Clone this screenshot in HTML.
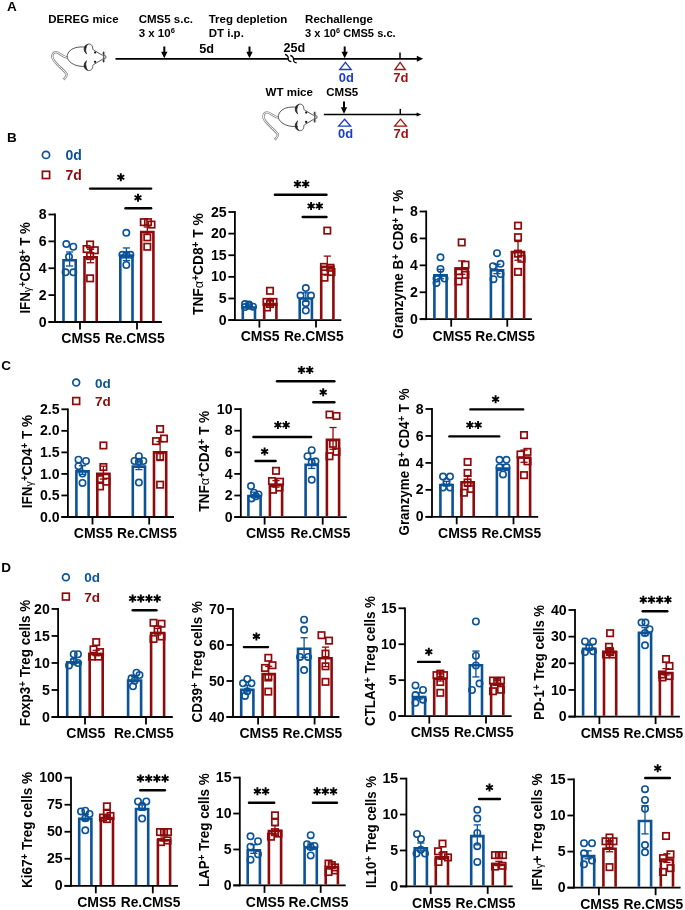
<!DOCTYPE html>
<html><head><meta charset="utf-8"><style>
html,body{margin:0;padding:0;background:#fff;}
svg{display:block;font-family:"Liberation Sans", sans-serif;will-change:transform;}
</style></head><body>
<svg width="685" height="910" viewBox="0 0 685 910">
<rect width="685" height="910" fill="#fff"/>
<text x="48.3" y="22.9" font-size="11.5" font-weight="bold" fill="#000">DEREG mice</text>
<text x="138.7" y="23.0" font-size="11.5" font-weight="bold" fill="#000">CMS5 s.c.</text>
<text x="138.7" y="37.1" font-size="11.5" font-weight="bold" fill="#000">3 x 10<tspan font-size="7.5" dy="-4.5">6</tspan></text>
<text x="208.7" y="23.0" font-size="11.5" font-weight="bold" fill="#000">Treg depletion</text>
<text x="208.7" y="37.1" font-size="11.5" font-weight="bold" fill="#000">DT i.p.</text>
<text x="305.1" y="23.0" font-size="11.5" font-weight="bold" fill="#000">Rechallenge</text>
<text x="305.1" y="37.1" font-size="11.5" font-weight="bold" fill="#000" textLength="90.6" lengthAdjust="spacingAndGlyphs">3 x 10<tspan font-size="7.5" dy="-4.5">6</tspan><tspan dy="4.5"> CMS5 s.c.</tspan></text>
<text x="199.3" y="52.8" font-size="12.7" font-weight="bold" fill="#000">5d</text>
<text x="283.5" y="51.7" font-size="12.6" font-weight="bold" fill="#000">25d</text>
<line x1="115.50" y1="58.90" x2="417.00" y2="58.90" stroke="#000" stroke-width="1.6" />
<path d="M416.8,55.8 L423.2,58.8 L416.8,61.8 Z" fill="#000"/>
<path d="M288.6,57.2 L293.4,57.2 L293.4,60.6 L288.6,60.6 Z" fill="#fff"/>
<path d="M285,54.3 C287.5,55.2 288.4,57 288.2,58.6 C288,60.3 289.5,61.5 291.4,61.6" fill="none" stroke="#000" stroke-width="1.25"/>
<path d="M290.3,55.3 C292.8,56.2 293.7,58 293.5,59.6 C293.3,61.3 294.8,62.5 296.7,62.8" fill="none" stroke="#000" stroke-width="1.25"/>
<line x1="164.3" y1="46.5" x2="164.3" y2="53" stroke="#000" stroke-width="2.0"/>
<path d="M161.10000000000002,51.7 L167.5,51.7 L164.3,58.2 Z" fill="#000"/>
<line x1="249.5" y1="46.5" x2="249.5" y2="53" stroke="#000" stroke-width="2.0"/>
<path d="M246.3,51.7 L252.7,51.7 L249.5,58.2 Z" fill="#000"/>
<line x1="344.7" y1="46.5" x2="344.7" y2="53" stroke="#000" stroke-width="2.0"/>
<path d="M341.5,51.7 L347.9,51.7 L344.7,58.2 Z" fill="#000"/>
<line x1="400.00" y1="52.50" x2="400.00" y2="59.00" stroke="#000" stroke-width="1.5" />
<path d="M345.45,62.30 L351.20,69.50 L339.70,69.50 Z" fill="none" stroke="#1c3cc4" stroke-width="1.3"/>
<path d="M400.10,62.30 L405.30,69.50 L394.90,69.50 Z" fill="none" stroke="#a01414" stroke-width="1.3"/>
<text x="338.8" y="81.8" font-size="12.9" font-weight="bold" fill="#1c3cc4">0d</text>
<text x="393.2" y="81.8" font-size="13.0" font-weight="bold" fill="#a01414">7d</text>
<text x="265.6" y="96.4" font-size="11.5" font-weight="bold" fill="#000">WT mice</text>
<text x="326.3" y="96.4" font-size="11.5" font-weight="bold" fill="#000">CMS5</text>
<line x1="344" y1="101.6" x2="344" y2="108" stroke="#000" stroke-width="2.0"/>
<path d="M340.8,107.2 L347.2,107.2 L344,113.7 Z" fill="#000"/>
<line x1="323.80" y1="114.50" x2="418.00" y2="114.50" stroke="#000" stroke-width="1.3" />
<path d="M416.6,112.4 L421.4,114.4 L416.6,116.4 Z" fill="#000"/>
<line x1="400.30" y1="108.90" x2="400.30" y2="114.40" stroke="#000" stroke-width="1.5" />
<path d="M344.60,119.20 L350.60,126.10 L338.60,126.10 Z" fill="none" stroke="#1c3cc4" stroke-width="1.3"/>
<path d="M400.50,119.20 L406.40,126.10 L394.60,126.10 Z" fill="none" stroke="#a01414" stroke-width="1.3"/>
<text x="338.0" y="137.6" font-size="12.9" font-weight="bold" fill="#1c3cc4">0d</text>
<text x="393.5" y="137.6" font-size="13.0" font-weight="bold" fill="#a01414">7d</text>
<g>
<g fill="none" stroke="#555" stroke-width="0.9">
<path d="M67.3,57.6 C62,56.5 59.5,52.6 56.3,52.3 C53,52.1 51.8,55 52.6,58 C54,63 62,68 66.8,74.2 C67.2,75.5 65,78 63.6,79.7" stroke="#888" stroke-width="2.4"/>
<path d="M67.3,57.6 C62,56.5 59.5,52.6 56.3,52.3 C53,52.1 51.8,55 52.6,58 C54,63 62,68 66.8,74.2 C67.2,75.5 65,78 63.6,79.7" stroke="#fff" stroke-width="1.0"/>
<path d="M86.5,47.3 C78,46 69,48 67.2,55.5 C66.5,61 74,67.5 86.5,66.3" stroke="#444"/>
<path d="M87.5,44.3 C90,43.3 92.6,45 92.7,48 C92.8,49.3 93.2,50 94,50.3 L102.6,55.4" stroke="#444"/>
<path d="M87.5,70.3 C90,71.3 92.6,69.6 92.7,66.6 C92.8,65.3 93.2,64.6 94,64.3 L102.6,59.2" stroke="#444"/>
<path d="M87.8,44.4 C83.6,45 82.8,51 86.6,53.8 C85.2,51.5 85.3,46.5 87.8,44.4 Z" fill="#222" stroke="#222" stroke-width="0.8"/>
<path d="M87.8,70.2 C83.6,69.6 82.8,63.6 86.6,60.8 C85.2,63.1 85.3,68.1 87.8,70.2 Z" fill="#222" stroke="#222" stroke-width="0.8"/>
<path d="M104.3,55.3 A1.7,1.7 0 0 1 104.3,58.7" stroke="#444"/>
<path d="M103.6,51.6 L103.6,62.4" stroke="#333" stroke-width="1.3"/>
<path d="M102.3,52.5 L104.9,61.6 M104.9,52.5 L102.3,61.6" stroke="#777" stroke-width="0.6"/>
</g>
<circle cx="95.1" cy="52.5" r="1.1" fill="#111"/>
<circle cx="95.1" cy="61.8" r="1.1" fill="#111"/>
</g>
<g transform="translate(211.1,60.1)">
<g fill="none" stroke="#555" stroke-width="0.9">
<path d="M67.3,57.6 C62,56.5 59.5,52.6 56.3,52.3 C53,52.1 51.8,55 52.6,58 C54,63 62,68 66.8,74.2 C67.2,75.5 65,78 63.6,79.7" stroke="#888" stroke-width="2.4"/>
<path d="M67.3,57.6 C62,56.5 59.5,52.6 56.3,52.3 C53,52.1 51.8,55 52.6,58 C54,63 62,68 66.8,74.2 C67.2,75.5 65,78 63.6,79.7" stroke="#fff" stroke-width="1.0"/>
<path d="M86.5,47.3 C78,46 69,48 67.2,55.5 C66.5,61 74,67.5 86.5,66.3" stroke="#444"/>
<path d="M87.5,44.3 C90,43.3 92.6,45 92.7,48 C92.8,49.3 93.2,50 94,50.3 L102.6,55.4" stroke="#444"/>
<path d="M87.5,70.3 C90,71.3 92.6,69.6 92.7,66.6 C92.8,65.3 93.2,64.6 94,64.3 L102.6,59.2" stroke="#444"/>
<path d="M87.8,44.4 C83.6,45 82.8,51 86.6,53.8 C85.2,51.5 85.3,46.5 87.8,44.4 Z" fill="#222" stroke="#222" stroke-width="0.8"/>
<path d="M87.8,70.2 C83.6,69.6 82.8,63.6 86.6,60.8 C85.2,63.1 85.3,68.1 87.8,70.2 Z" fill="#222" stroke="#222" stroke-width="0.8"/>
<path d="M104.3,55.3 A1.7,1.7 0 0 1 104.3,58.7" stroke="#444"/>
<path d="M103.6,51.6 L103.6,62.4" stroke="#333" stroke-width="1.3"/>
<path d="M102.3,52.5 L104.9,61.6 M104.9,52.5 L102.3,61.6" stroke="#777" stroke-width="0.6"/>
</g>
<circle cx="95.1" cy="52.5" r="1.1" fill="#111"/>
<circle cx="95.1" cy="61.8" r="1.1" fill="#111"/>
</g>
<line x1="55.00" y1="213.60" x2="55.00" y2="322.90" stroke="#000" stroke-width="1.8" />
<line x1="48.50" y1="322.00" x2="161.90" y2="322.00" stroke="#000" stroke-width="1.8" />
<line x1="48.50" y1="322.00" x2="55.00" y2="322.00" stroke="#000" stroke-width="1.8" />
<text x="46.7" y="326.6" font-size="14.1" text-anchor="end" font-weight="bold" fill="#000" >0</text>
<line x1="48.50" y1="295.12" x2="55.00" y2="295.12" stroke="#000" stroke-width="1.8" />
<text x="46.7" y="299.7" font-size="14.1" text-anchor="end" font-weight="bold" fill="#000" >2</text>
<line x1="48.50" y1="268.25" x2="55.00" y2="268.25" stroke="#000" stroke-width="1.8" />
<text x="46.7" y="272.8" font-size="14.1" text-anchor="end" font-weight="bold" fill="#000" >4</text>
<line x1="48.50" y1="241.38" x2="55.00" y2="241.38" stroke="#000" stroke-width="1.8" />
<text x="46.7" y="245.9" font-size="14.1" text-anchor="end" font-weight="bold" fill="#000" >6</text>
<line x1="48.50" y1="214.50" x2="55.00" y2="214.50" stroke="#000" stroke-width="1.8" />
<text x="46.7" y="219.1" font-size="14.1" text-anchor="end" font-weight="bold" fill="#000" >8</text>
<line x1="80.00" y1="322.00" x2="80.00" y2="329.50" stroke="#000" stroke-width="1.8" />
<line x1="137.00" y1="322.00" x2="137.00" y2="329.50" stroke="#000" stroke-width="1.8" />
<text x="80.8" y="343.3" font-size="14.0" text-anchor="middle" font-weight="bold" fill="#000" >CMS5</text>
<text x="134.8" y="343.3" font-size="14.0" text-anchor="middle" font-weight="bold" fill="#000" textLength="59.8" lengthAdjust="spacingAndGlyphs">Re.CMS5</text>
<path d="M63.50,321.10 V260.28 H75.70 V321.10" fill="none" stroke="#0b5297" stroke-width="2.6" stroke-linejoin="miter"/>
<line x1="69.60" y1="251.99" x2="69.60" y2="265.97" stroke="#0b5297" stroke-width="1.3" />
<line x1="66.00" y1="251.99" x2="73.20" y2="251.99" stroke="#0b5297" stroke-width="1.3" />
<line x1="66.00" y1="265.97" x2="73.20" y2="265.97" stroke="#0b5297" stroke-width="1.3" />
<circle cx="66.30" cy="244.06" r="3.2" fill="none" stroke="#0b5297" stroke-width="1.6"/>
<circle cx="73.30" cy="246.75" r="3.2" fill="none" stroke="#0b5297" stroke-width="1.6"/>
<circle cx="69.00" cy="256.83" r="3.2" fill="none" stroke="#0b5297" stroke-width="1.6"/>
<circle cx="65.60" cy="272.28" r="3.2" fill="none" stroke="#0b5297" stroke-width="1.6"/>
<circle cx="73.30" cy="272.28" r="3.2" fill="none" stroke="#0b5297" stroke-width="1.6"/>
<path d="M84.50,321.10 V257.32 H96.70 V321.10" fill="none" stroke="#8f0b0b" stroke-width="2.6" stroke-linejoin="miter"/>
<line x1="90.60" y1="249.30" x2="90.60" y2="262.74" stroke="#8f0b0b" stroke-width="1.3" />
<line x1="87.00" y1="249.30" x2="94.20" y2="249.30" stroke="#8f0b0b" stroke-width="1.3" />
<line x1="87.00" y1="262.74" x2="94.20" y2="262.74" stroke="#8f0b0b" stroke-width="1.3" />
<rect x="86.90" y="241.27" width="6.4" height="6.4" fill="none" stroke="#8f0b0b" stroke-width="1.7"/>
<rect x="83.40" y="245.83" width="6.4" height="6.4" fill="none" stroke="#8f0b0b" stroke-width="1.7"/>
<rect x="91.60" y="247.04" width="6.4" height="6.4" fill="none" stroke="#8f0b0b" stroke-width="1.7"/>
<rect x="86.90" y="252.82" width="6.4" height="6.4" fill="none" stroke="#8f0b0b" stroke-width="1.7"/>
<rect x="86.90" y="275.13" width="6.4" height="6.4" fill="none" stroke="#8f0b0b" stroke-width="1.7"/>
<path d="M120.30,321.10 V255.58 H132.50 V321.10" fill="none" stroke="#0b5297" stroke-width="2.6" stroke-linejoin="miter"/>
<line x1="126.40" y1="247.96" x2="126.40" y2="260.59" stroke="#0b5297" stroke-width="1.3" />
<line x1="122.80" y1="247.96" x2="130.00" y2="247.96" stroke="#0b5297" stroke-width="1.3" />
<line x1="122.80" y1="260.59" x2="130.00" y2="260.59" stroke="#0b5297" stroke-width="1.3" />
<circle cx="126.30" cy="232.78" r="3.2" fill="none" stroke="#0b5297" stroke-width="1.6"/>
<circle cx="122.40" cy="254.81" r="3.2" fill="none" stroke="#0b5297" stroke-width="1.6"/>
<circle cx="126.40" cy="254.81" r="3.2" fill="none" stroke="#0b5297" stroke-width="1.6"/>
<circle cx="130.40" cy="254.81" r="3.2" fill="none" stroke="#0b5297" stroke-width="1.6"/>
<circle cx="126.30" cy="265.02" r="3.2" fill="none" stroke="#0b5297" stroke-width="1.6"/>
<path d="M141.20,321.10 V232.06 H153.40 V321.10" fill="none" stroke="#8f0b0b" stroke-width="2.6" stroke-linejoin="miter"/>
<line x1="147.30" y1="227.00" x2="147.30" y2="234.52" stroke="#8f0b0b" stroke-width="1.3" />
<line x1="143.70" y1="227.00" x2="150.90" y2="227.00" stroke="#8f0b0b" stroke-width="1.3" />
<line x1="143.70" y1="234.52" x2="150.90" y2="234.52" stroke="#8f0b0b" stroke-width="1.3" />
<rect x="140.60" y="218.96" width="6.4" height="6.4" fill="none" stroke="#8f0b0b" stroke-width="1.7"/>
<rect x="144.80" y="218.96" width="6.4" height="6.4" fill="none" stroke="#8f0b0b" stroke-width="1.7"/>
<rect x="148.30" y="221.38" width="6.4" height="6.4" fill="none" stroke="#8f0b0b" stroke-width="1.7"/>
<rect x="144.10" y="234.14" width="6.4" height="6.4" fill="none" stroke="#8f0b0b" stroke-width="1.7"/>
<rect x="144.10" y="243.55" width="6.4" height="6.4" fill="none" stroke="#8f0b0b" stroke-width="1.7"/>
<line x1="90.10" y1="188.60" x2="151.10" y2="188.60" stroke="#000" stroke-width="2.4" stroke-linecap="round"/>
<path d="M120.80,173.30 L120.80,181.30 M117.34,175.30 L124.26,179.30 M124.26,175.30 L117.34,179.30 " stroke="#000" stroke-width="1.9" fill="none"/>
<circle cx="120.80" cy="177.30" r="1.6" fill="#000"/>
<line x1="125.50" y1="208.20" x2="151.10" y2="208.20" stroke="#000" stroke-width="2.4" stroke-linecap="round"/>
<path d="M138.00,193.70 L138.00,201.70 M134.54,195.70 L141.46,199.70 M141.46,195.70 L134.54,199.70 " stroke="#000" stroke-width="1.9" fill="none"/>
<circle cx="138.00" cy="197.70" r="1.6" fill="#000"/>
<text transform="translate(30.29,267.85) rotate(-90)" x="0" y="0" font-size="14.5" font-weight="bold" text-anchor="middle" textLength="91.5" lengthAdjust="spacingAndGlyphs">IFN<tspan font-weight="normal" font-size="11.5" baseline-shift="-1">γ</tspan><tspan baseline-shift="3.7" font-size="10.5">+</tspan>CD8<tspan baseline-shift="3.7" font-size="10.5">+</tspan> T %</text>
<line x1="234.90" y1="211.10" x2="234.90" y2="321.00" stroke="#000" stroke-width="1.8" />
<line x1="228.40" y1="320.10" x2="341.30" y2="320.10" stroke="#000" stroke-width="1.8" />
<line x1="228.40" y1="320.10" x2="234.90" y2="320.10" stroke="#000" stroke-width="1.8" />
<text x="226.6" y="324.7" font-size="14.1" text-anchor="end" font-weight="bold" fill="#000" >0</text>
<line x1="228.40" y1="298.48" x2="234.90" y2="298.48" stroke="#000" stroke-width="1.8" />
<text x="226.6" y="303.0" font-size="14.1" text-anchor="end" font-weight="bold" fill="#000" >5</text>
<line x1="228.40" y1="276.86" x2="234.90" y2="276.86" stroke="#000" stroke-width="1.8" />
<text x="226.6" y="281.4" font-size="14.1" text-anchor="end" font-weight="bold" fill="#000" >10</text>
<line x1="228.40" y1="255.24" x2="234.90" y2="255.24" stroke="#000" stroke-width="1.8" />
<text x="226.6" y="259.8" font-size="14.1" text-anchor="end" font-weight="bold" fill="#000" >15</text>
<line x1="228.40" y1="233.62" x2="234.90" y2="233.62" stroke="#000" stroke-width="1.8" />
<text x="226.6" y="238.2" font-size="14.1" text-anchor="end" font-weight="bold" fill="#000" >20</text>
<line x1="228.40" y1="212.00" x2="234.90" y2="212.00" stroke="#000" stroke-width="1.8" />
<text x="226.6" y="216.6" font-size="14.1" text-anchor="end" font-weight="bold" fill="#000" >25</text>
<line x1="259.40" y1="320.10" x2="259.40" y2="327.60" stroke="#000" stroke-width="1.8" />
<line x1="316.00" y1="320.10" x2="316.00" y2="327.60" stroke="#000" stroke-width="1.8" />
<text x="260.2" y="341.4" font-size="14.0" text-anchor="middle" font-weight="bold" fill="#000" >CMS5</text>
<text x="313.8" y="341.4" font-size="14.0" text-anchor="middle" font-weight="bold" fill="#000" textLength="59.8" lengthAdjust="spacingAndGlyphs">Re.CMS5</text>
<path d="M242.80,319.20 V307.51 H255.00 V319.20" fill="none" stroke="#0b5297" stroke-width="2.6" stroke-linejoin="miter"/>
<line x1="248.90" y1="304.91" x2="248.90" y2="307.50" stroke="#0b5297" stroke-width="1.3" />
<line x1="245.30" y1="304.91" x2="252.50" y2="304.91" stroke="#0b5297" stroke-width="1.3" />
<line x1="245.30" y1="307.50" x2="252.50" y2="307.50" stroke="#0b5297" stroke-width="1.3" />
<circle cx="245.00" cy="304.05" r="3.2" fill="none" stroke="#0b5297" stroke-width="1.6"/>
<circle cx="249.00" cy="304.48" r="3.2" fill="none" stroke="#0b5297" stroke-width="1.6"/>
<circle cx="253.00" cy="306.64" r="3.2" fill="none" stroke="#0b5297" stroke-width="1.6"/>
<circle cx="249.00" cy="305.78" r="3.2" fill="none" stroke="#0b5297" stroke-width="1.6"/>
<circle cx="245.00" cy="307.07" r="3.2" fill="none" stroke="#0b5297" stroke-width="1.6"/>
<path d="M264.20,319.20 V304.05 H276.40 V319.20" fill="none" stroke="#8f0b0b" stroke-width="2.6" stroke-linejoin="miter"/>
<line x1="270.30" y1="299.73" x2="270.30" y2="305.78" stroke="#8f0b0b" stroke-width="1.3" />
<line x1="266.70" y1="299.73" x2="273.90" y2="299.73" stroke="#8f0b0b" stroke-width="1.3" />
<line x1="266.70" y1="305.78" x2="273.90" y2="305.78" stroke="#8f0b0b" stroke-width="1.3" />
<rect x="266.80" y="287.59" width="6.4" height="6.4" fill="none" stroke="#8f0b0b" stroke-width="1.7"/>
<rect x="263.30" y="298.69" width="6.4" height="6.4" fill="none" stroke="#8f0b0b" stroke-width="1.7"/>
<rect x="270.30" y="298.69" width="6.4" height="6.4" fill="none" stroke="#8f0b0b" stroke-width="1.7"/>
<rect x="266.80" y="300.85" width="6.4" height="6.4" fill="none" stroke="#8f0b0b" stroke-width="1.7"/>
<rect x="263.80" y="304.30" width="6.4" height="6.4" fill="none" stroke="#8f0b0b" stroke-width="1.7"/>
<path d="M299.70,319.20 V298.44 H311.90 V319.20" fill="none" stroke="#0b5297" stroke-width="2.6" stroke-linejoin="miter"/>
<line x1="305.80" y1="292.82" x2="305.80" y2="301.46" stroke="#0b5297" stroke-width="1.3" />
<line x1="302.20" y1="292.82" x2="309.40" y2="292.82" stroke="#0b5297" stroke-width="1.3" />
<line x1="302.20" y1="301.46" x2="309.40" y2="301.46" stroke="#0b5297" stroke-width="1.3" />
<circle cx="305.80" cy="288.06" r="3.2" fill="none" stroke="#0b5297" stroke-width="1.6"/>
<circle cx="300.50" cy="295.62" r="3.2" fill="none" stroke="#0b5297" stroke-width="1.6"/>
<circle cx="311.00" cy="295.62" r="3.2" fill="none" stroke="#0b5297" stroke-width="1.6"/>
<circle cx="305.80" cy="303.18" r="3.2" fill="none" stroke="#0b5297" stroke-width="1.6"/>
<circle cx="305.80" cy="310.53" r="3.2" fill="none" stroke="#0b5297" stroke-width="1.6"/>
<path d="M321.20,319.20 V266.90 H333.40 V319.20" fill="none" stroke="#8f0b0b" stroke-width="2.6" stroke-linejoin="miter"/>
<line x1="327.30" y1="256.10" x2="327.30" y2="275.10" stroke="#8f0b0b" stroke-width="1.3" />
<line x1="323.70" y1="256.10" x2="330.90" y2="256.10" stroke="#8f0b0b" stroke-width="1.3" />
<line x1="323.70" y1="275.10" x2="330.90" y2="275.10" stroke="#8f0b0b" stroke-width="1.3" />
<rect x="324.10" y="227.41" width="6.4" height="6.4" fill="none" stroke="#8f0b0b" stroke-width="1.7"/>
<rect x="320.80" y="263.70" width="6.4" height="6.4" fill="none" stroke="#8f0b0b" stroke-width="1.7"/>
<rect x="327.30" y="264.56" width="6.4" height="6.4" fill="none" stroke="#8f0b0b" stroke-width="1.7"/>
<rect x="328.30" y="268.88" width="6.4" height="6.4" fill="none" stroke="#8f0b0b" stroke-width="1.7"/>
<rect x="321.30" y="274.50" width="6.4" height="6.4" fill="none" stroke="#8f0b0b" stroke-width="1.7"/>
<line x1="274.90" y1="194.70" x2="326.50" y2="194.70" stroke="#000" stroke-width="2.4" stroke-linecap="round"/>
<path d="M297.50,180.00 L297.50,188.00 M294.04,182.00 L300.96,186.00 M300.96,182.00 L294.04,186.00 " stroke="#000" stroke-width="1.9" fill="none"/>
<circle cx="297.50" cy="184.00" r="1.6" fill="#000"/>
<path d="M305.70,180.00 L305.70,188.00 M302.24,182.00 L309.16,186.00 M309.16,182.00 L302.24,186.00 " stroke="#000" stroke-width="1.9" fill="none"/>
<circle cx="305.70" cy="184.00" r="1.6" fill="#000"/>
<line x1="302.70" y1="217.00" x2="326.50" y2="217.00" stroke="#000" stroke-width="2.4" stroke-linecap="round"/>
<path d="M311.10,202.00 L311.10,210.00 M307.64,204.00 L314.56,208.00 M314.56,204.00 L307.64,208.00 " stroke="#000" stroke-width="1.9" fill="none"/>
<circle cx="311.10" cy="206.00" r="1.6" fill="#000"/>
<path d="M319.30,202.00 L319.30,210.00 M315.84,204.00 L322.76,208.00 M322.76,204.00 L315.84,208.00 " stroke="#000" stroke-width="1.9" fill="none"/>
<circle cx="319.30" cy="206.00" r="1.6" fill="#000"/>
<text transform="translate(202.89,264.15) rotate(-90)" x="0" y="0" font-size="14.5" font-weight="bold" text-anchor="middle" textLength="101.7" lengthAdjust="spacingAndGlyphs">TNF<tspan font-weight="normal" font-size="13.5">α</tspan><tspan baseline-shift="3.7" font-size="10.5">+</tspan>CD8<tspan baseline-shift="3.7" font-size="10.5">+</tspan> T %</text>
<line x1="426.20" y1="210.60" x2="426.20" y2="320.10" stroke="#000" stroke-width="1.8" />
<line x1="419.70" y1="319.20" x2="531.90" y2="319.20" stroke="#000" stroke-width="1.8" />
<line x1="419.70" y1="319.20" x2="426.20" y2="319.20" stroke="#000" stroke-width="1.8" />
<text x="417.9" y="323.8" font-size="14.1" text-anchor="end" font-weight="bold" fill="#000" >0</text>
<line x1="419.70" y1="292.27" x2="426.20" y2="292.27" stroke="#000" stroke-width="1.8" />
<text x="417.9" y="296.8" font-size="14.1" text-anchor="end" font-weight="bold" fill="#000" >2</text>
<line x1="419.70" y1="265.35" x2="426.20" y2="265.35" stroke="#000" stroke-width="1.8" />
<text x="417.9" y="269.9" font-size="14.1" text-anchor="end" font-weight="bold" fill="#000" >4</text>
<line x1="419.70" y1="238.43" x2="426.20" y2="238.43" stroke="#000" stroke-width="1.8" />
<text x="417.9" y="243.0" font-size="14.1" text-anchor="end" font-weight="bold" fill="#000" >6</text>
<line x1="419.70" y1="211.50" x2="426.20" y2="211.50" stroke="#000" stroke-width="1.8" />
<text x="417.9" y="216.1" font-size="14.1" text-anchor="end" font-weight="bold" fill="#000" >8</text>
<line x1="451.20" y1="319.20" x2="451.20" y2="326.70" stroke="#000" stroke-width="1.8" />
<line x1="507.30" y1="319.20" x2="507.30" y2="326.70" stroke="#000" stroke-width="1.8" />
<text x="452.0" y="340.5" font-size="14.0" text-anchor="middle" font-weight="bold" fill="#000" >CMS5</text>
<text x="505.1" y="340.5" font-size="14.0" text-anchor="middle" font-weight="bold" fill="#000" textLength="59.8" lengthAdjust="spacingAndGlyphs">Re.CMS5</text>
<path d="M434.40,318.30 V275.34 H446.60 V318.30" fill="none" stroke="#0b5297" stroke-width="2.6" stroke-linejoin="miter"/>
<line x1="440.50" y1="269.35" x2="440.50" y2="278.73" stroke="#0b5297" stroke-width="1.3" />
<line x1="436.90" y1="269.35" x2="444.10" y2="269.35" stroke="#0b5297" stroke-width="1.3" />
<line x1="436.90" y1="278.73" x2="444.10" y2="278.73" stroke="#0b5297" stroke-width="1.3" />
<circle cx="440.50" cy="257.29" r="3.2" fill="none" stroke="#0b5297" stroke-width="1.6"/>
<circle cx="440.50" cy="268.95" r="3.2" fill="none" stroke="#0b5297" stroke-width="1.6"/>
<circle cx="436.50" cy="278.60" r="3.2" fill="none" stroke="#0b5297" stroke-width="1.6"/>
<circle cx="444.50" cy="278.60" r="3.2" fill="none" stroke="#0b5297" stroke-width="1.6"/>
<circle cx="436.50" cy="282.89" r="3.2" fill="none" stroke="#0b5297" stroke-width="1.6"/>
<path d="M455.60,318.30 V268.91 H467.80 V318.30" fill="none" stroke="#8f0b0b" stroke-width="2.6" stroke-linejoin="miter"/>
<line x1="461.70" y1="260.91" x2="461.70" y2="274.31" stroke="#8f0b0b" stroke-width="1.3" />
<line x1="458.10" y1="260.91" x2="465.30" y2="260.91" stroke="#8f0b0b" stroke-width="1.3" />
<line x1="458.10" y1="274.31" x2="465.30" y2="274.31" stroke="#8f0b0b" stroke-width="1.3" />
<rect x="458.50" y="239.22" width="6.4" height="6.4" fill="none" stroke="#8f0b0b" stroke-width="1.7"/>
<rect x="462.30" y="261.46" width="6.4" height="6.4" fill="none" stroke="#8f0b0b" stroke-width="1.7"/>
<rect x="455.30" y="268.03" width="6.4" height="6.4" fill="none" stroke="#8f0b0b" stroke-width="1.7"/>
<rect x="462.30" y="271.65" width="6.4" height="6.4" fill="none" stroke="#8f0b0b" stroke-width="1.7"/>
<rect x="455.30" y="278.21" width="6.4" height="6.4" fill="none" stroke="#8f0b0b" stroke-width="1.7"/>
<path d="M490.90,318.30 V270.25 H503.10 V318.30" fill="none" stroke="#0b5297" stroke-width="2.6" stroke-linejoin="miter"/>
<line x1="497.00" y1="264.26" x2="497.00" y2="273.64" stroke="#0b5297" stroke-width="1.3" />
<line x1="493.40" y1="264.26" x2="500.60" y2="264.26" stroke="#0b5297" stroke-width="1.3" />
<line x1="493.40" y1="273.64" x2="500.60" y2="273.64" stroke="#0b5297" stroke-width="1.3" />
<circle cx="497.00" cy="253.14" r="3.2" fill="none" stroke="#0b5297" stroke-width="1.6"/>
<circle cx="493.00" cy="266.14" r="3.2" fill="none" stroke="#0b5297" stroke-width="1.6"/>
<circle cx="500.50" cy="263.86" r="3.2" fill="none" stroke="#0b5297" stroke-width="1.6"/>
<circle cx="500.50" cy="274.04" r="3.2" fill="none" stroke="#0b5297" stroke-width="1.6"/>
<circle cx="493.50" cy="279.14" r="3.2" fill="none" stroke="#0b5297" stroke-width="1.6"/>
<path d="M511.90,318.30 V252.16 H524.10 V318.30" fill="none" stroke="#8f0b0b" stroke-width="2.6" stroke-linejoin="miter"/>
<line x1="518.00" y1="241.48" x2="518.00" y2="260.24" stroke="#8f0b0b" stroke-width="1.3" />
<line x1="514.40" y1="241.48" x2="521.60" y2="241.48" stroke="#8f0b0b" stroke-width="1.3" />
<line x1="514.40" y1="260.24" x2="521.60" y2="260.24" stroke="#8f0b0b" stroke-width="1.3" />
<rect x="514.80" y="222.47" width="6.4" height="6.4" fill="none" stroke="#8f0b0b" stroke-width="1.7"/>
<rect x="514.80" y="233.99" width="6.4" height="6.4" fill="none" stroke="#8f0b0b" stroke-width="1.7"/>
<rect x="514.80" y="250.48" width="6.4" height="6.4" fill="none" stroke="#8f0b0b" stroke-width="1.7"/>
<rect x="518.30" y="255.57" width="6.4" height="6.4" fill="none" stroke="#8f0b0b" stroke-width="1.7"/>
<rect x="514.80" y="268.70" width="6.4" height="6.4" fill="none" stroke="#8f0b0b" stroke-width="1.7"/>
<text transform="translate(402.89,264.25) rotate(-90)" x="0" y="0" font-size="14.5" font-weight="bold" text-anchor="middle" textLength="148.9" lengthAdjust="spacingAndGlyphs">Granzyme B<tspan baseline-shift="3.7" font-size="10.5">+</tspan> CD8<tspan baseline-shift="3.7" font-size="10.5">+</tspan> T %</text>
<line x1="67.90" y1="408.40" x2="67.90" y2="517.90" stroke="#000" stroke-width="1.8" />
<line x1="61.40" y1="517.00" x2="174.00" y2="517.00" stroke="#000" stroke-width="1.8" />
<line x1="61.40" y1="517.00" x2="67.90" y2="517.00" stroke="#000" stroke-width="1.8" />
<text x="59.6" y="521.6" font-size="14.1" text-anchor="end" font-weight="bold" fill="#000" >0.0</text>
<line x1="61.40" y1="495.46" x2="67.90" y2="495.46" stroke="#000" stroke-width="1.8" />
<text x="59.6" y="500.0" font-size="14.1" text-anchor="end" font-weight="bold" fill="#000" >0.5</text>
<line x1="61.40" y1="473.92" x2="67.90" y2="473.92" stroke="#000" stroke-width="1.8" />
<text x="59.6" y="478.5" font-size="14.1" text-anchor="end" font-weight="bold" fill="#000" >1.0</text>
<line x1="61.40" y1="452.38" x2="67.90" y2="452.38" stroke="#000" stroke-width="1.8" />
<text x="59.6" y="456.9" font-size="14.1" text-anchor="end" font-weight="bold" fill="#000" >1.5</text>
<line x1="61.40" y1="430.84" x2="67.90" y2="430.84" stroke="#000" stroke-width="1.8" />
<text x="59.6" y="435.4" font-size="14.1" text-anchor="end" font-weight="bold" fill="#000" >2.0</text>
<line x1="61.40" y1="409.30" x2="67.90" y2="409.30" stroke="#000" stroke-width="1.8" />
<text x="59.6" y="413.9" font-size="14.1" text-anchor="end" font-weight="bold" fill="#000" >2.5</text>
<line x1="92.50" y1="517.00" x2="92.50" y2="524.50" stroke="#000" stroke-width="1.8" />
<line x1="149.20" y1="517.00" x2="149.20" y2="524.50" stroke="#000" stroke-width="1.8" />
<text x="93.3" y="538.3" font-size="14.0" text-anchor="middle" font-weight="bold" fill="#000" >CMS5</text>
<text x="147.0" y="538.3" font-size="14.0" text-anchor="middle" font-weight="bold" fill="#000" textLength="59.8" lengthAdjust="spacingAndGlyphs">Re.CMS5</text>
<path d="M76.40,516.10 V471.33 H88.60 V516.10" fill="none" stroke="#0b5297" stroke-width="2.6" stroke-linejoin="miter"/>
<line x1="82.50" y1="465.72" x2="82.50" y2="474.34" stroke="#0b5297" stroke-width="1.3" />
<line x1="78.90" y1="465.72" x2="86.10" y2="465.72" stroke="#0b5297" stroke-width="1.3" />
<line x1="78.90" y1="474.34" x2="86.10" y2="474.34" stroke="#0b5297" stroke-width="1.3" />
<circle cx="78.50" cy="459.68" r="3.2" fill="none" stroke="#0b5297" stroke-width="1.6"/>
<circle cx="86.00" cy="460.98" r="3.2" fill="none" stroke="#0b5297" stroke-width="1.6"/>
<circle cx="78.50" cy="466.15" r="3.2" fill="none" stroke="#0b5297" stroke-width="1.6"/>
<circle cx="82.50" cy="473.48" r="3.2" fill="none" stroke="#0b5297" stroke-width="1.6"/>
<circle cx="82.50" cy="482.97" r="3.2" fill="none" stroke="#0b5297" stroke-width="1.6"/>
<path d="M97.30,516.10 V473.92 H109.50 V516.10" fill="none" stroke="#8f0b0b" stroke-width="2.6" stroke-linejoin="miter"/>
<line x1="103.40" y1="466.15" x2="103.40" y2="479.09" stroke="#8f0b0b" stroke-width="1.3" />
<line x1="99.80" y1="466.15" x2="107.00" y2="466.15" stroke="#8f0b0b" stroke-width="1.3" />
<line x1="99.80" y1="479.09" x2="107.00" y2="479.09" stroke="#8f0b0b" stroke-width="1.3" />
<rect x="100.20" y="442.25" width="6.4" height="6.4" fill="none" stroke="#8f0b0b" stroke-width="1.7"/>
<rect x="100.20" y="463.81" width="6.4" height="6.4" fill="none" stroke="#8f0b0b" stroke-width="1.7"/>
<rect x="96.80" y="475.89" width="6.4" height="6.4" fill="none" stroke="#8f0b0b" stroke-width="1.7"/>
<rect x="103.30" y="478.47" width="6.4" height="6.4" fill="none" stroke="#8f0b0b" stroke-width="1.7"/>
<rect x="96.80" y="483.22" width="6.4" height="6.4" fill="none" stroke="#8f0b0b" stroke-width="1.7"/>
<path d="M132.80,516.10 V466.59 H145.00 V516.10" fill="none" stroke="#0b5297" stroke-width="2.6" stroke-linejoin="miter"/>
<line x1="138.90" y1="460.98" x2="138.90" y2="469.60" stroke="#0b5297" stroke-width="1.3" />
<line x1="135.30" y1="460.98" x2="142.50" y2="460.98" stroke="#0b5297" stroke-width="1.3" />
<line x1="135.30" y1="469.60" x2="142.50" y2="469.60" stroke="#0b5297" stroke-width="1.3" />
<circle cx="138.90" cy="456.23" r="3.2" fill="none" stroke="#0b5297" stroke-width="1.6"/>
<circle cx="134.50" cy="460.98" r="3.2" fill="none" stroke="#0b5297" stroke-width="1.6"/>
<circle cx="143.30" cy="460.98" r="3.2" fill="none" stroke="#0b5297" stroke-width="1.6"/>
<circle cx="138.90" cy="461.84" r="3.2" fill="none" stroke="#0b5297" stroke-width="1.6"/>
<circle cx="138.90" cy="482.54" r="3.2" fill="none" stroke="#0b5297" stroke-width="1.6"/>
<path d="M154.00,516.10 V452.36 H166.20 V516.10" fill="none" stroke="#8f0b0b" stroke-width="2.6" stroke-linejoin="miter"/>
<line x1="160.10" y1="441.57" x2="160.10" y2="460.54" stroke="#8f0b0b" stroke-width="1.3" />
<line x1="156.50" y1="441.57" x2="163.70" y2="441.57" stroke="#8f0b0b" stroke-width="1.3" />
<line x1="156.50" y1="460.54" x2="163.70" y2="460.54" stroke="#8f0b0b" stroke-width="1.3" />
<rect x="156.90" y="425.87" width="6.4" height="6.4" fill="none" stroke="#8f0b0b" stroke-width="1.7"/>
<rect x="152.80" y="437.94" width="6.4" height="6.4" fill="none" stroke="#8f0b0b" stroke-width="1.7"/>
<rect x="160.80" y="435.35" width="6.4" height="6.4" fill="none" stroke="#8f0b0b" stroke-width="1.7"/>
<rect x="156.90" y="453.46" width="6.4" height="6.4" fill="none" stroke="#8f0b0b" stroke-width="1.7"/>
<rect x="156.90" y="481.49" width="6.4" height="6.4" fill="none" stroke="#8f0b0b" stroke-width="1.7"/>
<text transform="translate(31.89,461.55) rotate(-90)" x="0" y="0" font-size="14.5" font-weight="bold" text-anchor="middle" textLength="93.3" lengthAdjust="spacingAndGlyphs">IFN<tspan font-weight="normal" font-size="11.5" baseline-shift="-1">γ</tspan><tspan baseline-shift="3.7" font-size="10.5">+</tspan>CD4<tspan baseline-shift="3.7" font-size="10.5">+</tspan> T %</text>
<line x1="240.80" y1="408.20" x2="240.80" y2="518.00" stroke="#000" stroke-width="1.8" />
<line x1="234.30" y1="517.10" x2="346.80" y2="517.10" stroke="#000" stroke-width="1.8" />
<line x1="234.30" y1="517.10" x2="240.80" y2="517.10" stroke="#000" stroke-width="1.8" />
<text x="232.5" y="521.7" font-size="14.1" text-anchor="end" font-weight="bold" fill="#000" >0</text>
<line x1="234.30" y1="495.50" x2="240.80" y2="495.50" stroke="#000" stroke-width="1.8" />
<text x="232.5" y="500.1" font-size="14.1" text-anchor="end" font-weight="bold" fill="#000" >2</text>
<line x1="234.30" y1="473.90" x2="240.80" y2="473.90" stroke="#000" stroke-width="1.8" />
<text x="232.5" y="478.5" font-size="14.1" text-anchor="end" font-weight="bold" fill="#000" >4</text>
<line x1="234.30" y1="452.30" x2="240.80" y2="452.30" stroke="#000" stroke-width="1.8" />
<text x="232.5" y="456.9" font-size="14.1" text-anchor="end" font-weight="bold" fill="#000" >6</text>
<line x1="234.30" y1="430.70" x2="240.80" y2="430.70" stroke="#000" stroke-width="1.8" />
<text x="232.5" y="435.3" font-size="14.1" text-anchor="end" font-weight="bold" fill="#000" >8</text>
<line x1="234.30" y1="409.10" x2="240.80" y2="409.10" stroke="#000" stroke-width="1.8" />
<text x="232.5" y="413.7" font-size="14.1" text-anchor="end" font-weight="bold" fill="#000" >10</text>
<line x1="264.60" y1="517.10" x2="264.60" y2="524.60" stroke="#000" stroke-width="1.8" />
<line x1="322.70" y1="517.10" x2="322.70" y2="524.60" stroke="#000" stroke-width="1.8" />
<text x="265.4" y="538.4" font-size="14.0" text-anchor="middle" font-weight="bold" fill="#000" >CMS5</text>
<text x="320.5" y="538.4" font-size="14.0" text-anchor="middle" font-weight="bold" fill="#000" textLength="59.8" lengthAdjust="spacingAndGlyphs">Re.CMS5</text>
<path d="M248.40,516.20 V496.16 H260.60 V516.20" fill="none" stroke="#0b5297" stroke-width="2.6" stroke-linejoin="miter"/>
<line x1="254.50" y1="492.14" x2="254.50" y2="497.58" stroke="#0b5297" stroke-width="1.3" />
<line x1="250.90" y1="492.14" x2="258.10" y2="492.14" stroke="#0b5297" stroke-width="1.3" />
<line x1="250.90" y1="497.58" x2="258.10" y2="497.58" stroke="#0b5297" stroke-width="1.3" />
<circle cx="251.00" cy="486.05" r="3.2" fill="none" stroke="#0b5297" stroke-width="1.6"/>
<circle cx="254.00" cy="492.68" r="3.2" fill="none" stroke="#0b5297" stroke-width="1.6"/>
<circle cx="258.50" cy="494.43" r="3.2" fill="none" stroke="#0b5297" stroke-width="1.6"/>
<circle cx="256.00" cy="496.28" r="3.2" fill="none" stroke="#0b5297" stroke-width="1.6"/>
<circle cx="251.50" cy="498.45" r="3.2" fill="none" stroke="#0b5297" stroke-width="1.6"/>
<path d="M269.90,516.20 V485.17 H282.10 V516.20" fill="none" stroke="#8f0b0b" stroke-width="2.6" stroke-linejoin="miter"/>
<line x1="276.00" y1="480.61" x2="276.00" y2="487.14" stroke="#8f0b0b" stroke-width="1.3" />
<line x1="272.40" y1="480.61" x2="279.60" y2="480.61" stroke="#8f0b0b" stroke-width="1.3" />
<line x1="272.40" y1="487.14" x2="279.60" y2="487.14" stroke="#8f0b0b" stroke-width="1.3" />
<rect x="272.80" y="467.62" width="6.4" height="6.4" fill="none" stroke="#8f0b0b" stroke-width="1.7"/>
<rect x="268.80" y="477.84" width="6.4" height="6.4" fill="none" stroke="#8f0b0b" stroke-width="1.7"/>
<rect x="276.80" y="478.50" width="6.4" height="6.4" fill="none" stroke="#8f0b0b" stroke-width="1.7"/>
<rect x="276.30" y="484.37" width="6.4" height="6.4" fill="none" stroke="#8f0b0b" stroke-width="1.7"/>
<rect x="269.80" y="486.55" width="6.4" height="6.4" fill="none" stroke="#8f0b0b" stroke-width="1.7"/>
<path d="M305.60,516.20 V464.83 H317.80 V516.20" fill="none" stroke="#0b5297" stroke-width="2.6" stroke-linejoin="miter"/>
<line x1="311.70" y1="458.63" x2="311.70" y2="468.42" stroke="#0b5297" stroke-width="1.3" />
<line x1="308.10" y1="458.63" x2="315.30" y2="458.63" stroke="#0b5297" stroke-width="1.3" />
<line x1="308.10" y1="468.42" x2="315.30" y2="468.42" stroke="#0b5297" stroke-width="1.3" />
<circle cx="311.70" cy="450.25" r="3.2" fill="none" stroke="#0b5297" stroke-width="1.6"/>
<circle cx="307.50" cy="456.24" r="3.2" fill="none" stroke="#0b5297" stroke-width="1.6"/>
<circle cx="315.50" cy="461.35" r="3.2" fill="none" stroke="#0b5297" stroke-width="1.6"/>
<circle cx="311.70" cy="462.33" r="3.2" fill="none" stroke="#0b5297" stroke-width="1.6"/>
<circle cx="311.70" cy="479.85" r="3.2" fill="none" stroke="#0b5297" stroke-width="1.6"/>
<path d="M326.90,516.20 V439.69 H339.10 V516.20" fill="none" stroke="#8f0b0b" stroke-width="2.6" stroke-linejoin="miter"/>
<line x1="333.00" y1="427.51" x2="333.00" y2="449.27" stroke="#8f0b0b" stroke-width="1.3" />
<line x1="329.40" y1="427.51" x2="336.60" y2="427.51" stroke="#8f0b0b" stroke-width="1.3" />
<line x1="329.40" y1="449.27" x2="336.60" y2="449.27" stroke="#8f0b0b" stroke-width="1.3" />
<rect x="326.30" y="411.37" width="6.4" height="6.4" fill="none" stroke="#8f0b0b" stroke-width="1.7"/>
<rect x="333.30" y="412.78" width="6.4" height="6.4" fill="none" stroke="#8f0b0b" stroke-width="1.7"/>
<rect x="329.80" y="440.63" width="6.4" height="6.4" fill="none" stroke="#8f0b0b" stroke-width="1.7"/>
<rect x="333.30" y="448.58" width="6.4" height="6.4" fill="none" stroke="#8f0b0b" stroke-width="1.7"/>
<rect x="326.30" y="453.04" width="6.4" height="6.4" fill="none" stroke="#8f0b0b" stroke-width="1.7"/>
<line x1="277.00" y1="381.30" x2="334.40" y2="381.30" stroke="#000" stroke-width="2.4" stroke-linecap="round"/>
<path d="M301.50,366.00 L301.50,374.00 M298.04,368.00 L304.96,372.00 M304.96,368.00 L298.04,372.00 " stroke="#000" stroke-width="1.9" fill="none"/>
<circle cx="301.50" cy="370.00" r="1.6" fill="#000"/>
<path d="M309.70,366.00 L309.70,374.00 M306.24,368.00 L313.16,372.00 M313.16,368.00 L306.24,372.00 " stroke="#000" stroke-width="1.9" fill="none"/>
<circle cx="309.70" cy="370.00" r="1.6" fill="#000"/>
<line x1="313.30" y1="402.30" x2="334.40" y2="402.30" stroke="#000" stroke-width="2.4" stroke-linecap="round"/>
<path d="M323.20,388.30 L323.20,396.30 M319.74,390.30 L326.66,394.30 M326.66,390.30 L319.74,394.30 " stroke="#000" stroke-width="1.9" fill="none"/>
<circle cx="323.20" cy="392.30" r="1.6" fill="#000"/>
<line x1="253.40" y1="437.00" x2="311.10" y2="437.00" stroke="#000" stroke-width="2.4" stroke-linecap="round"/>
<path d="M277.90,421.00 L277.90,429.00 M274.44,423.00 L281.36,427.00 M281.36,423.00 L274.44,427.00 " stroke="#000" stroke-width="1.9" fill="none"/>
<circle cx="277.90" cy="425.00" r="1.6" fill="#000"/>
<path d="M286.10,421.00 L286.10,429.00 M282.64,423.00 L289.56,427.00 M289.56,423.00 L282.64,427.00 " stroke="#000" stroke-width="1.9" fill="none"/>
<circle cx="286.10" cy="425.00" r="1.6" fill="#000"/>
<line x1="255.50" y1="461.00" x2="275.60" y2="461.00" stroke="#000" stroke-width="2.4" stroke-linecap="round"/>
<path d="M264.60,447.50 L264.60,455.50 M261.14,449.50 L268.06,453.50 M268.06,449.50 L261.14,453.50 " stroke="#000" stroke-width="1.9" fill="none"/>
<circle cx="264.60" cy="451.50" r="1.6" fill="#000"/>
<text transform="translate(209.29,461.25) rotate(-90)" x="0" y="0" font-size="14.5" font-weight="bold" text-anchor="middle" textLength="101.1" lengthAdjust="spacingAndGlyphs">TNF<tspan font-weight="normal" font-size="13.5">α</tspan><tspan baseline-shift="3.7" font-size="10.5">+</tspan>CD4<tspan baseline-shift="3.7" font-size="10.5">+</tspan> T %</text>
<line x1="432.00" y1="408.10" x2="432.00" y2="517.70" stroke="#000" stroke-width="1.8" />
<line x1="425.50" y1="516.80" x2="538.20" y2="516.80" stroke="#000" stroke-width="1.8" />
<line x1="425.50" y1="516.80" x2="432.00" y2="516.80" stroke="#000" stroke-width="1.8" />
<text x="423.7" y="521.4" font-size="14.1" text-anchor="end" font-weight="bold" fill="#000" >0</text>
<line x1="425.50" y1="489.85" x2="432.00" y2="489.85" stroke="#000" stroke-width="1.8" />
<text x="423.7" y="494.4" font-size="14.1" text-anchor="end" font-weight="bold" fill="#000" >2</text>
<line x1="425.50" y1="462.90" x2="432.00" y2="462.90" stroke="#000" stroke-width="1.8" />
<text x="423.7" y="467.5" font-size="14.1" text-anchor="end" font-weight="bold" fill="#000" >4</text>
<line x1="425.50" y1="435.95" x2="432.00" y2="435.95" stroke="#000" stroke-width="1.8" />
<text x="423.7" y="440.5" font-size="14.1" text-anchor="end" font-weight="bold" fill="#000" >6</text>
<line x1="425.50" y1="409.00" x2="432.00" y2="409.00" stroke="#000" stroke-width="1.8" />
<text x="423.7" y="413.6" font-size="14.1" text-anchor="end" font-weight="bold" fill="#000" >8</text>
<line x1="456.70" y1="516.80" x2="456.70" y2="524.30" stroke="#000" stroke-width="1.8" />
<line x1="513.50" y1="516.80" x2="513.50" y2="524.30" stroke="#000" stroke-width="1.8" />
<text x="457.5" y="538.1" font-size="14.0" text-anchor="middle" font-weight="bold" fill="#000" >CMS5</text>
<text x="511.3" y="538.1" font-size="14.0" text-anchor="middle" font-weight="bold" fill="#000" textLength="59.8" lengthAdjust="spacingAndGlyphs">Re.CMS5</text>
<path d="M440.40,515.90 V484.96 H452.60 V515.90" fill="none" stroke="#0b5297" stroke-width="2.6" stroke-linejoin="miter"/>
<line x1="446.50" y1="481.36" x2="446.50" y2="485.96" stroke="#0b5297" stroke-width="1.3" />
<line x1="442.90" y1="481.36" x2="450.10" y2="481.36" stroke="#0b5297" stroke-width="1.3" />
<line x1="442.90" y1="485.96" x2="450.10" y2="485.96" stroke="#0b5297" stroke-width="1.3" />
<circle cx="443.00" cy="476.62" r="3.2" fill="none" stroke="#0b5297" stroke-width="1.6"/>
<circle cx="450.00" cy="476.62" r="3.2" fill="none" stroke="#0b5297" stroke-width="1.6"/>
<circle cx="446.50" cy="481.77" r="3.2" fill="none" stroke="#0b5297" stroke-width="1.6"/>
<circle cx="443.00" cy="487.59" r="3.2" fill="none" stroke="#0b5297" stroke-width="1.6"/>
<circle cx="450.00" cy="487.59" r="3.2" fill="none" stroke="#0b5297" stroke-width="1.6"/>
<path d="M461.50,515.90 V482.25 H473.70 V515.90" fill="none" stroke="#8f0b0b" stroke-width="2.6" stroke-linejoin="miter"/>
<line x1="467.60" y1="475.54" x2="467.60" y2="486.37" stroke="#8f0b0b" stroke-width="1.3" />
<line x1="464.00" y1="475.54" x2="471.20" y2="475.54" stroke="#8f0b0b" stroke-width="1.3" />
<line x1="464.00" y1="486.37" x2="471.20" y2="486.37" stroke="#8f0b0b" stroke-width="1.3" />
<rect x="464.40" y="458.80" width="6.4" height="6.4" fill="none" stroke="#8f0b0b" stroke-width="1.7"/>
<rect x="464.40" y="469.77" width="6.4" height="6.4" fill="none" stroke="#8f0b0b" stroke-width="1.7"/>
<rect x="464.40" y="479.24" width="6.4" height="6.4" fill="none" stroke="#8f0b0b" stroke-width="1.7"/>
<rect x="467.80" y="485.74" width="6.4" height="6.4" fill="none" stroke="#8f0b0b" stroke-width="1.7"/>
<rect x="460.80" y="489.53" width="6.4" height="6.4" fill="none" stroke="#8f0b0b" stroke-width="1.7"/>
<path d="M496.90,515.90 V468.45 H509.10 V515.90" fill="none" stroke="#0b5297" stroke-width="2.6" stroke-linejoin="miter"/>
<line x1="503.00" y1="464.44" x2="503.00" y2="469.85" stroke="#0b5297" stroke-width="1.3" />
<line x1="499.40" y1="464.44" x2="506.60" y2="464.44" stroke="#0b5297" stroke-width="1.3" />
<line x1="499.40" y1="469.85" x2="506.60" y2="469.85" stroke="#0b5297" stroke-width="1.3" />
<circle cx="499.50" cy="459.84" r="3.2" fill="none" stroke="#0b5297" stroke-width="1.6"/>
<circle cx="506.50" cy="459.84" r="3.2" fill="none" stroke="#0b5297" stroke-width="1.6"/>
<circle cx="499.50" cy="467.15" r="3.2" fill="none" stroke="#0b5297" stroke-width="1.6"/>
<circle cx="506.50" cy="467.15" r="3.2" fill="none" stroke="#0b5297" stroke-width="1.6"/>
<circle cx="503.00" cy="474.46" r="3.2" fill="none" stroke="#0b5297" stroke-width="1.6"/>
<path d="M517.90,515.90 V457.48 H530.10 V515.90" fill="none" stroke="#8f0b0b" stroke-width="2.6" stroke-linejoin="miter"/>
<line x1="524.00" y1="450.09" x2="524.00" y2="462.27" stroke="#8f0b0b" stroke-width="1.3" />
<line x1="520.40" y1="450.09" x2="527.60" y2="450.09" stroke="#8f0b0b" stroke-width="1.3" />
<line x1="520.40" y1="462.27" x2="527.60" y2="462.27" stroke="#8f0b0b" stroke-width="1.3" />
<rect x="520.80" y="431.86" width="6.4" height="6.4" fill="none" stroke="#8f0b0b" stroke-width="1.7"/>
<rect x="517.30" y="451.22" width="6.4" height="6.4" fill="none" stroke="#8f0b0b" stroke-width="1.7"/>
<rect x="524.30" y="448.65" width="6.4" height="6.4" fill="none" stroke="#8f0b0b" stroke-width="1.7"/>
<rect x="524.30" y="458.13" width="6.4" height="6.4" fill="none" stroke="#8f0b0b" stroke-width="1.7"/>
<rect x="520.80" y="471.93" width="6.4" height="6.4" fill="none" stroke="#8f0b0b" stroke-width="1.7"/>
<line x1="470.40" y1="409.40" x2="523.20" y2="409.40" stroke="#000" stroke-width="2.4" stroke-linecap="round"/>
<path d="M495.60,395.20 L495.60,403.20 M492.14,397.20 L499.06,401.20 M499.06,397.20 L492.14,401.20 " stroke="#000" stroke-width="1.9" fill="none"/>
<circle cx="495.60" cy="399.20" r="1.6" fill="#000"/>
<line x1="449.40" y1="436.40" x2="499.20" y2="436.40" stroke="#000" stroke-width="2.4" stroke-linecap="round"/>
<path d="M469.90,421.00 L469.90,429.00 M466.44,423.00 L473.36,427.00 M473.36,423.00 L466.44,427.00 " stroke="#000" stroke-width="1.9" fill="none"/>
<circle cx="469.90" cy="425.00" r="1.6" fill="#000"/>
<path d="M478.10,421.00 L478.10,429.00 M474.64,423.00 L481.56,427.00 M481.56,423.00 L474.64,427.00 " stroke="#000" stroke-width="1.9" fill="none"/>
<circle cx="478.10" cy="425.00" r="1.6" fill="#000"/>
<text transform="translate(409.29,461.95) rotate(-90)" x="0" y="0" font-size="14.5" font-weight="bold" text-anchor="middle" textLength="147.1" lengthAdjust="spacingAndGlyphs">Granzyme B<tspan baseline-shift="3.7" font-size="10.5">+</tspan> CD4<tspan baseline-shift="3.7" font-size="10.5">+</tspan> T %</text>
<line x1="58.10" y1="608.05" x2="58.10" y2="717.90" stroke="#000" stroke-width="1.8" />
<line x1="51.60" y1="717.00" x2="172.80" y2="717.00" stroke="#000" stroke-width="1.8" />
<line x1="51.60" y1="717.00" x2="58.10" y2="717.00" stroke="#000" stroke-width="1.8" />
<text x="49.8" y="721.6" font-size="14.1" text-anchor="end" font-weight="bold" fill="#000" >0</text>
<line x1="51.60" y1="689.99" x2="58.10" y2="689.99" stroke="#000" stroke-width="1.8" />
<text x="49.8" y="694.5" font-size="14.1" text-anchor="end" font-weight="bold" fill="#000" >5</text>
<line x1="51.60" y1="662.98" x2="58.10" y2="662.98" stroke="#000" stroke-width="1.8" />
<text x="49.8" y="667.5" font-size="14.1" text-anchor="end" font-weight="bold" fill="#000" >10</text>
<line x1="51.60" y1="635.96" x2="58.10" y2="635.96" stroke="#000" stroke-width="1.8" />
<text x="49.8" y="640.5" font-size="14.1" text-anchor="end" font-weight="bold" fill="#000" >15</text>
<line x1="51.60" y1="608.95" x2="58.10" y2="608.95" stroke="#000" stroke-width="1.8" />
<text x="49.8" y="613.5" font-size="14.1" text-anchor="end" font-weight="bold" fill="#000" >20</text>
<line x1="85.00" y1="717.00" x2="85.00" y2="724.50" stroke="#000" stroke-width="1.8" />
<line x1="146.00" y1="717.00" x2="146.00" y2="724.50" stroke="#000" stroke-width="1.8" />
<text x="85.8" y="738.3" font-size="14.0" text-anchor="middle" font-weight="bold" fill="#000" >CMS5</text>
<text x="143.8" y="738.3" font-size="14.0" text-anchor="middle" font-weight="bold" fill="#000" textLength="59.8" lengthAdjust="spacingAndGlyphs">Re.CMS5</text>
<path d="M67.20,716.10 V662.41 H80.20 V716.10" fill="none" stroke="#0b5297" stroke-width="2.6" stroke-linejoin="miter"/>
<line x1="73.70" y1="658.95" x2="73.70" y2="663.28" stroke="#0b5297" stroke-width="1.3" />
<line x1="70.10" y1="658.95" x2="77.30" y2="658.95" stroke="#0b5297" stroke-width="1.3" />
<line x1="70.10" y1="663.28" x2="77.30" y2="663.28" stroke="#0b5297" stroke-width="1.3" />
<circle cx="73.70" cy="654.24" r="3.2" fill="none" stroke="#0b5297" stroke-width="1.6"/>
<circle cx="78.00" cy="654.24" r="3.2" fill="none" stroke="#0b5297" stroke-width="1.6"/>
<circle cx="69.00" cy="665.39" r="3.2" fill="none" stroke="#0b5297" stroke-width="1.6"/>
<circle cx="78.00" cy="663.01" r="3.2" fill="none" stroke="#0b5297" stroke-width="1.6"/>
<circle cx="73.70" cy="661.39" r="3.2" fill="none" stroke="#0b5297" stroke-width="1.6"/>
<path d="M89.70,716.10 V654.30 H102.70 V716.10" fill="none" stroke="#8f0b0b" stroke-width="2.6" stroke-linejoin="miter"/>
<line x1="96.20" y1="650.29" x2="96.20" y2="655.70" stroke="#8f0b0b" stroke-width="1.3" />
<line x1="92.60" y1="650.29" x2="99.80" y2="650.29" stroke="#8f0b0b" stroke-width="1.3" />
<line x1="92.60" y1="655.70" x2="99.80" y2="655.70" stroke="#8f0b0b" stroke-width="1.3" />
<rect x="93.00" y="638.93" width="6.4" height="6.4" fill="none" stroke="#8f0b0b" stroke-width="1.7"/>
<rect x="90.30" y="646.17" width="6.4" height="6.4" fill="none" stroke="#8f0b0b" stroke-width="1.7"/>
<rect x="96.80" y="648.88" width="6.4" height="6.4" fill="none" stroke="#8f0b0b" stroke-width="1.7"/>
<rect x="88.80" y="653.42" width="6.4" height="6.4" fill="none" stroke="#8f0b0b" stroke-width="1.7"/>
<rect x="95.30" y="653.42" width="6.4" height="6.4" fill="none" stroke="#8f0b0b" stroke-width="1.7"/>
<path d="M128.10,716.10 V680.43 H141.10 V716.10" fill="none" stroke="#0b5297" stroke-width="2.6" stroke-linejoin="miter"/>
<line x1="134.60" y1="676.70" x2="134.60" y2="681.56" stroke="#0b5297" stroke-width="1.3" />
<line x1="131.00" y1="676.70" x2="138.20" y2="676.70" stroke="#0b5297" stroke-width="1.3" />
<line x1="131.00" y1="681.56" x2="138.20" y2="681.56" stroke="#0b5297" stroke-width="1.3" />
<circle cx="136.50" cy="672.64" r="3.2" fill="none" stroke="#0b5297" stroke-width="1.6"/>
<circle cx="139.50" cy="675.02" r="3.2" fill="none" stroke="#0b5297" stroke-width="1.6"/>
<circle cx="131.50" cy="678.32" r="3.2" fill="none" stroke="#0b5297" stroke-width="1.6"/>
<circle cx="134.60" cy="680.75" r="3.2" fill="none" stroke="#0b5297" stroke-width="1.6"/>
<circle cx="133.00" cy="686.33" r="3.2" fill="none" stroke="#0b5297" stroke-width="1.6"/>
<path d="M151.10,716.10 V632.98 H164.10 V716.10" fill="none" stroke="#8f0b0b" stroke-width="2.6" stroke-linejoin="miter"/>
<line x1="157.60" y1="628.44" x2="157.60" y2="634.93" stroke="#8f0b0b" stroke-width="1.3" />
<line x1="154.00" y1="628.44" x2="161.20" y2="628.44" stroke="#8f0b0b" stroke-width="1.3" />
<line x1="154.00" y1="634.93" x2="161.20" y2="634.93" stroke="#8f0b0b" stroke-width="1.3" />
<rect x="150.30" y="619.61" width="6.4" height="6.4" fill="none" stroke="#8f0b0b" stroke-width="1.7"/>
<rect x="158.30" y="620.53" width="6.4" height="6.4" fill="none" stroke="#8f0b0b" stroke-width="1.7"/>
<rect x="154.40" y="626.16" width="6.4" height="6.4" fill="none" stroke="#8f0b0b" stroke-width="1.7"/>
<rect x="150.30" y="635.73" width="6.4" height="6.4" fill="none" stroke="#8f0b0b" stroke-width="1.7"/>
<rect x="158.30" y="633.30" width="6.4" height="6.4" fill="none" stroke="#8f0b0b" stroke-width="1.7"/>
<line x1="132.70" y1="610.30" x2="156.50" y2="610.30" stroke="#000" stroke-width="2.4" stroke-linecap="round"/>
<path d="M132.60,594.50 L132.60,602.50 M129.14,596.50 L136.06,600.50 M136.06,596.50 L129.14,600.50 " stroke="#000" stroke-width="1.9" fill="none"/>
<circle cx="132.60" cy="598.50" r="1.6" fill="#000"/>
<path d="M140.80,594.50 L140.80,602.50 M137.34,596.50 L144.26,600.50 M144.26,596.50 L137.34,600.50 " stroke="#000" stroke-width="1.9" fill="none"/>
<circle cx="140.80" cy="598.50" r="1.6" fill="#000"/>
<path d="M149.00,594.50 L149.00,602.50 M145.54,596.50 L152.46,600.50 M152.46,596.50 L145.54,600.50 " stroke="#000" stroke-width="1.9" fill="none"/>
<circle cx="149.00" cy="598.50" r="1.6" fill="#000"/>
<path d="M157.20,594.50 L157.20,602.50 M153.74,596.50 L160.66,600.50 M160.66,596.50 L153.74,600.50 " stroke="#000" stroke-width="1.9" fill="none"/>
<circle cx="157.20" cy="598.50" r="1.6" fill="#000"/>
<text transform="translate(29.79,663.05) rotate(-90)" x="0" y="0" font-size="14.5" font-weight="bold" text-anchor="middle" textLength="126.5" lengthAdjust="spacingAndGlyphs">Foxp3<tspan baseline-shift="3.7" font-size="10.5">+</tspan> Treg cells %</text>
<line x1="233.00" y1="608.05" x2="233.00" y2="717.90" stroke="#000" stroke-width="1.8" />
<line x1="226.50" y1="717.00" x2="339.40" y2="717.00" stroke="#000" stroke-width="1.8" />
<line x1="226.50" y1="717.00" x2="233.00" y2="717.00" stroke="#000" stroke-width="1.8" />
<text x="224.7" y="721.6" font-size="14.1" text-anchor="end" font-weight="bold" fill="#000" >40</text>
<line x1="226.50" y1="680.98" x2="233.00" y2="680.98" stroke="#000" stroke-width="1.8" />
<text x="224.7" y="685.5" font-size="14.1" text-anchor="end" font-weight="bold" fill="#000" >50</text>
<line x1="226.50" y1="644.97" x2="233.00" y2="644.97" stroke="#000" stroke-width="1.8" />
<text x="224.7" y="649.5" font-size="14.1" text-anchor="end" font-weight="bold" fill="#000" >60</text>
<line x1="226.50" y1="608.95" x2="233.00" y2="608.95" stroke="#000" stroke-width="1.8" />
<text x="224.7" y="613.5" font-size="14.1" text-anchor="end" font-weight="bold" fill="#000" >70</text>
<line x1="258.10" y1="717.00" x2="258.10" y2="724.50" stroke="#000" stroke-width="1.8" />
<line x1="314.60" y1="717.00" x2="314.60" y2="724.50" stroke="#000" stroke-width="1.8" />
<text x="258.9" y="738.3" font-size="14.0" text-anchor="middle" font-weight="bold" fill="#000" >CMS5</text>
<text x="312.4" y="738.3" font-size="14.0" text-anchor="middle" font-weight="bold" fill="#000" textLength="59.8" lengthAdjust="spacingAndGlyphs">Re.CMS5</text>
<path d="M241.20,716.10 V689.81 H253.40 V716.10" fill="none" stroke="#0b5297" stroke-width="2.6" stroke-linejoin="miter"/>
<line x1="247.30" y1="685.26" x2="247.30" y2="691.77" stroke="#0b5297" stroke-width="1.3" />
<line x1="243.70" y1="685.26" x2="250.90" y2="685.26" stroke="#0b5297" stroke-width="1.3" />
<line x1="243.70" y1="691.77" x2="250.90" y2="691.77" stroke="#0b5297" stroke-width="1.3" />
<circle cx="247.30" cy="678.96" r="3.2" fill="none" stroke="#0b5297" stroke-width="1.6"/>
<circle cx="243.00" cy="683.30" r="3.2" fill="none" stroke="#0b5297" stroke-width="1.6"/>
<circle cx="251.50" cy="683.30" r="3.2" fill="none" stroke="#0b5297" stroke-width="1.6"/>
<circle cx="247.30" cy="691.26" r="3.2" fill="none" stroke="#0b5297" stroke-width="1.6"/>
<circle cx="245.00" cy="695.96" r="3.2" fill="none" stroke="#0b5297" stroke-width="1.6"/>
<path d="M262.60,716.10 V674.11 H274.80 V716.10" fill="none" stroke="#8f0b0b" stroke-width="2.6" stroke-linejoin="miter"/>
<line x1="268.70" y1="666.30" x2="268.70" y2="679.32" stroke="#8f0b0b" stroke-width="1.3" />
<line x1="265.10" y1="666.30" x2="272.30" y2="666.30" stroke="#8f0b0b" stroke-width="1.3" />
<line x1="265.10" y1="679.32" x2="272.30" y2="679.32" stroke="#8f0b0b" stroke-width="1.3" />
<rect x="265.10" y="654.61" width="6.4" height="6.4" fill="none" stroke="#8f0b0b" stroke-width="1.7"/>
<rect x="269.30" y="662.02" width="6.4" height="6.4" fill="none" stroke="#8f0b0b" stroke-width="1.7"/>
<rect x="261.80" y="664.73" width="6.4" height="6.4" fill="none" stroke="#8f0b0b" stroke-width="1.7"/>
<rect x="265.10" y="674.32" width="6.4" height="6.4" fill="none" stroke="#8f0b0b" stroke-width="1.7"/>
<rect x="265.10" y="688.42" width="6.4" height="6.4" fill="none" stroke="#8f0b0b" stroke-width="1.7"/>
<path d="M298.00,716.10 V648.80 H310.20 V716.10" fill="none" stroke="#0b5297" stroke-width="2.6" stroke-linejoin="miter"/>
<line x1="304.10" y1="637.73" x2="304.10" y2="657.26" stroke="#0b5297" stroke-width="1.3" />
<line x1="300.50" y1="637.73" x2="307.70" y2="637.73" stroke="#0b5297" stroke-width="1.3" />
<line x1="300.50" y1="657.26" x2="307.70" y2="657.26" stroke="#0b5297" stroke-width="1.3" />
<circle cx="304.10" cy="619.65" r="3.2" fill="none" stroke="#0b5297" stroke-width="1.6"/>
<circle cx="304.10" cy="629.78" r="3.2" fill="none" stroke="#0b5297" stroke-width="1.6"/>
<circle cx="300.00" cy="656.90" r="3.2" fill="none" stroke="#0b5297" stroke-width="1.6"/>
<circle cx="308.00" cy="656.90" r="3.2" fill="none" stroke="#0b5297" stroke-width="1.6"/>
<circle cx="304.10" cy="670.10" r="3.2" fill="none" stroke="#0b5297" stroke-width="1.6"/>
<path d="M319.40,716.10 V658.20 H331.60 V716.10" fill="none" stroke="#8f0b0b" stroke-width="2.6" stroke-linejoin="miter"/>
<line x1="325.50" y1="647.14" x2="325.50" y2="666.67" stroke="#8f0b0b" stroke-width="1.3" />
<line x1="321.90" y1="647.14" x2="329.10" y2="647.14" stroke="#8f0b0b" stroke-width="1.3" />
<line x1="321.90" y1="666.67" x2="329.10" y2="666.67" stroke="#8f0b0b" stroke-width="1.3" />
<rect x="318.30" y="632.00" width="6.4" height="6.4" fill="none" stroke="#8f0b0b" stroke-width="1.7"/>
<rect x="325.80" y="637.43" width="6.4" height="6.4" fill="none" stroke="#8f0b0b" stroke-width="1.7"/>
<rect x="322.30" y="650.45" width="6.4" height="6.4" fill="none" stroke="#8f0b0b" stroke-width="1.7"/>
<rect x="322.30" y="663.10" width="6.4" height="6.4" fill="none" stroke="#8f0b0b" stroke-width="1.7"/>
<rect x="322.30" y="678.66" width="6.4" height="6.4" fill="none" stroke="#8f0b0b" stroke-width="1.7"/>
<line x1="243.90" y1="647.10" x2="268.00" y2="647.10" stroke="#000" stroke-width="2.4" stroke-linecap="round"/>
<path d="M256.40,632.40 L256.40,640.40 M252.94,634.40 L259.86,638.40 M259.86,634.40 L252.94,638.40 " stroke="#000" stroke-width="1.9" fill="none"/>
<circle cx="256.40" cy="636.40" r="1.6" fill="#000"/>
<text transform="translate(202.39,661.75) rotate(-90)" x="0" y="0" font-size="14.5" font-weight="bold" text-anchor="middle" textLength="121.5" lengthAdjust="spacingAndGlyphs">CD39<tspan baseline-shift="3.7" font-size="10.5">+</tspan> Treg cells %</text>
<line x1="405.00" y1="607.40" x2="405.00" y2="717.00" stroke="#000" stroke-width="1.8" />
<line x1="398.50" y1="716.10" x2="511.60" y2="716.10" stroke="#000" stroke-width="1.8" />
<line x1="398.50" y1="716.10" x2="405.00" y2="716.10" stroke="#000" stroke-width="1.8" />
<text x="396.7" y="720.7" font-size="14.1" text-anchor="end" font-weight="bold" fill="#000" >0</text>
<line x1="398.50" y1="680.17" x2="405.00" y2="680.17" stroke="#000" stroke-width="1.8" />
<text x="396.7" y="684.7" font-size="14.1" text-anchor="end" font-weight="bold" fill="#000" >5</text>
<line x1="398.50" y1="644.23" x2="405.00" y2="644.23" stroke="#000" stroke-width="1.8" />
<text x="396.7" y="648.8" font-size="14.1" text-anchor="end" font-weight="bold" fill="#000" >10</text>
<line x1="398.50" y1="608.30" x2="405.00" y2="608.30" stroke="#000" stroke-width="1.8" />
<text x="396.7" y="612.9" font-size="14.1" text-anchor="end" font-weight="bold" fill="#000" >15</text>
<line x1="429.30" y1="716.10" x2="429.30" y2="723.60" stroke="#000" stroke-width="1.8" />
<line x1="486.00" y1="716.10" x2="486.00" y2="723.60" stroke="#000" stroke-width="1.8" />
<text x="430.1" y="737.4" font-size="14.0" text-anchor="middle" font-weight="bold" fill="#000" >CMS5</text>
<text x="483.8" y="737.4" font-size="14.0" text-anchor="middle" font-weight="bold" fill="#000" textLength="59.8" lengthAdjust="spacingAndGlyphs">Re.CMS5</text>
<path d="M412.90,715.20 V697.13 H425.10 V715.20" fill="none" stroke="#0b5297" stroke-width="2.6" stroke-linejoin="miter"/>
<line x1="419.00" y1="692.60" x2="419.00" y2="699.07" stroke="#0b5297" stroke-width="1.3" />
<line x1="415.40" y1="692.60" x2="422.60" y2="692.60" stroke="#0b5297" stroke-width="1.3" />
<line x1="415.40" y1="699.07" x2="422.60" y2="699.07" stroke="#0b5297" stroke-width="1.3" />
<circle cx="415.50" cy="685.41" r="3.2" fill="none" stroke="#0b5297" stroke-width="1.6"/>
<circle cx="423.00" cy="690.01" r="3.2" fill="none" stroke="#0b5297" stroke-width="1.6"/>
<circle cx="415.50" cy="695.11" r="3.2" fill="none" stroke="#0b5297" stroke-width="1.6"/>
<circle cx="423.00" cy="699.71" r="3.2" fill="none" stroke="#0b5297" stroke-width="1.6"/>
<circle cx="415.50" cy="702.73" r="3.2" fill="none" stroke="#0b5297" stroke-width="1.6"/>
<path d="M434.20,715.20 V678.74 H446.40 V715.20" fill="none" stroke="#8f0b0b" stroke-width="2.6" stroke-linejoin="miter"/>
<line x1="440.30" y1="673.84" x2="440.30" y2="681.03" stroke="#8f0b0b" stroke-width="1.3" />
<line x1="436.70" y1="673.84" x2="443.90" y2="673.84" stroke="#8f0b0b" stroke-width="1.3" />
<line x1="436.70" y1="681.03" x2="443.90" y2="681.03" stroke="#8f0b0b" stroke-width="1.3" />
<rect x="433.30" y="671.94" width="6.4" height="6.4" fill="none" stroke="#8f0b0b" stroke-width="1.7"/>
<rect x="440.80" y="671.94" width="6.4" height="6.4" fill="none" stroke="#8f0b0b" stroke-width="1.7"/>
<rect x="437.10" y="670.43" width="6.4" height="6.4" fill="none" stroke="#8f0b0b" stroke-width="1.7"/>
<rect x="437.10" y="678.84" width="6.4" height="6.4" fill="none" stroke="#8f0b0b" stroke-width="1.7"/>
<rect x="437.10" y="689.62" width="6.4" height="6.4" fill="none" stroke="#8f0b0b" stroke-width="1.7"/>
<path d="M469.80,715.20 V665.30 H482.00 V715.20" fill="none" stroke="#0b5297" stroke-width="2.6" stroke-linejoin="miter"/>
<line x1="475.90" y1="651.06" x2="475.90" y2="676.93" stroke="#0b5297" stroke-width="1.3" />
<line x1="472.30" y1="651.06" x2="479.50" y2="651.06" stroke="#0b5297" stroke-width="1.3" />
<line x1="472.30" y1="676.93" x2="479.50" y2="676.93" stroke="#0b5297" stroke-width="1.3" />
<circle cx="475.90" cy="621.52" r="3.2" fill="none" stroke="#0b5297" stroke-width="1.6"/>
<circle cx="475.90" cy="655.73" r="3.2" fill="none" stroke="#0b5297" stroke-width="1.6"/>
<circle cx="475.90" cy="665.51" r="3.2" fill="none" stroke="#0b5297" stroke-width="1.6"/>
<circle cx="479.50" cy="683.62" r="3.2" fill="none" stroke="#0b5297" stroke-width="1.6"/>
<circle cx="472.00" cy="690.01" r="3.2" fill="none" stroke="#0b5297" stroke-width="1.6"/>
<path d="M491.10,715.20 V684.13 H503.30 V715.20" fill="none" stroke="#8f0b0b" stroke-width="2.6" stroke-linejoin="miter"/>
<line x1="497.20" y1="680.31" x2="497.20" y2="685.34" stroke="#8f0b0b" stroke-width="1.3" />
<line x1="493.60" y1="680.31" x2="500.80" y2="680.31" stroke="#8f0b0b" stroke-width="1.3" />
<line x1="493.60" y1="685.34" x2="500.80" y2="685.34" stroke="#8f0b0b" stroke-width="1.3" />
<rect x="489.80" y="677.33" width="6.4" height="6.4" fill="none" stroke="#8f0b0b" stroke-width="1.7"/>
<rect x="497.80" y="677.33" width="6.4" height="6.4" fill="none" stroke="#8f0b0b" stroke-width="1.7"/>
<rect x="494.00" y="678.84" width="6.4" height="6.4" fill="none" stroke="#8f0b0b" stroke-width="1.7"/>
<rect x="489.80" y="688.03" width="6.4" height="6.4" fill="none" stroke="#8f0b0b" stroke-width="1.7"/>
<rect x="497.80" y="686.52" width="6.4" height="6.4" fill="none" stroke="#8f0b0b" stroke-width="1.7"/>
<line x1="418.10" y1="661.90" x2="439.70" y2="661.90" stroke="#000" stroke-width="2.4" stroke-linecap="round"/>
<path d="M428.80,647.70 L428.80,655.70 M425.34,649.70 L432.26,653.70 M432.26,649.70 L425.34,653.70 " stroke="#000" stroke-width="1.9" fill="none"/>
<circle cx="428.80" cy="651.70" r="1.6" fill="#000"/>
<text transform="translate(374.79,661.00) rotate(-90)" x="0" y="0" font-size="14.5" font-weight="bold" text-anchor="middle" textLength="130.0" lengthAdjust="spacingAndGlyphs">CTLA4<tspan baseline-shift="3.7" font-size="10.5">+</tspan> Treg cells %</text>
<line x1="575.00" y1="609.10" x2="575.00" y2="717.50" stroke="#000" stroke-width="1.8" />
<line x1="568.50" y1="716.60" x2="679.90" y2="716.60" stroke="#000" stroke-width="1.8" />
<line x1="568.50" y1="716.60" x2="575.00" y2="716.60" stroke="#000" stroke-width="1.8" />
<text x="566.7" y="721.2" font-size="14.1" text-anchor="end" font-weight="bold" fill="#000" >0</text>
<line x1="568.50" y1="689.95" x2="575.00" y2="689.95" stroke="#000" stroke-width="1.8" />
<text x="566.7" y="694.5" font-size="14.1" text-anchor="end" font-weight="bold" fill="#000" >10</text>
<line x1="568.50" y1="663.30" x2="575.00" y2="663.30" stroke="#000" stroke-width="1.8" />
<text x="566.7" y="667.9" font-size="14.1" text-anchor="end" font-weight="bold" fill="#000" >20</text>
<line x1="568.50" y1="636.65" x2="575.00" y2="636.65" stroke="#000" stroke-width="1.8" />
<text x="566.7" y="641.2" font-size="14.1" text-anchor="end" font-weight="bold" fill="#000" >30</text>
<line x1="568.50" y1="610.00" x2="575.00" y2="610.00" stroke="#000" stroke-width="1.8" />
<text x="566.7" y="614.6" font-size="14.1" text-anchor="end" font-weight="bold" fill="#000" >40</text>
<line x1="599.40" y1="716.60" x2="599.40" y2="724.10" stroke="#000" stroke-width="1.8" />
<line x1="655.60" y1="716.60" x2="655.60" y2="724.10" stroke="#000" stroke-width="1.8" />
<text x="600.2" y="737.9" font-size="14.0" text-anchor="middle" font-weight="bold" fill="#000" >CMS5</text>
<text x="653.4" y="737.9" font-size="14.0" text-anchor="middle" font-weight="bold" fill="#000" textLength="59.8" lengthAdjust="spacingAndGlyphs">Re.CMS5</text>
<path d="M583.10,715.70 V648.88 H595.30 V715.70" fill="none" stroke="#0b5297" stroke-width="2.6" stroke-linejoin="miter"/>
<line x1="589.20" y1="645.18" x2="589.20" y2="649.98" stroke="#0b5297" stroke-width="1.3" />
<line x1="585.60" y1="645.18" x2="592.80" y2="645.18" stroke="#0b5297" stroke-width="1.3" />
<line x1="585.60" y1="649.98" x2="592.80" y2="649.98" stroke="#0b5297" stroke-width="1.3" />
<circle cx="585.00" cy="641.45" r="3.2" fill="none" stroke="#0b5297" stroke-width="1.6"/>
<circle cx="593.00" cy="641.45" r="3.2" fill="none" stroke="#0b5297" stroke-width="1.6"/>
<circle cx="589.20" cy="647.58" r="3.2" fill="none" stroke="#0b5297" stroke-width="1.6"/>
<circle cx="585.00" cy="652.11" r="3.2" fill="none" stroke="#0b5297" stroke-width="1.6"/>
<circle cx="593.00" cy="651.31" r="3.2" fill="none" stroke="#0b5297" stroke-width="1.6"/>
<path d="M604.00,715.70 V652.34 H616.20 V715.70" fill="none" stroke="#8f0b0b" stroke-width="2.6" stroke-linejoin="miter"/>
<line x1="610.10" y1="647.58" x2="610.10" y2="654.51" stroke="#8f0b0b" stroke-width="1.3" />
<line x1="606.50" y1="647.58" x2="613.70" y2="647.58" stroke="#8f0b0b" stroke-width="1.3" />
<line x1="606.50" y1="654.51" x2="613.70" y2="654.51" stroke="#8f0b0b" stroke-width="1.3" />
<rect x="606.90" y="629.99" width="6.4" height="6.4" fill="none" stroke="#8f0b0b" stroke-width="1.7"/>
<rect x="605.80" y="643.58" width="6.4" height="6.4" fill="none" stroke="#8f0b0b" stroke-width="1.7"/>
<rect x="602.80" y="651.31" width="6.4" height="6.4" fill="none" stroke="#8f0b0b" stroke-width="1.7"/>
<rect x="609.80" y="651.31" width="6.4" height="6.4" fill="none" stroke="#8f0b0b" stroke-width="1.7"/>
<rect x="606.90" y="648.91" width="6.4" height="6.4" fill="none" stroke="#8f0b0b" stroke-width="1.7"/>
<path d="M638.90,715.70 V632.89 H651.10 V715.70" fill="none" stroke="#0b5297" stroke-width="2.6" stroke-linejoin="miter"/>
<line x1="645.00" y1="627.59" x2="645.00" y2="635.58" stroke="#0b5297" stroke-width="1.3" />
<line x1="641.40" y1="627.59" x2="648.60" y2="627.59" stroke="#0b5297" stroke-width="1.3" />
<line x1="641.40" y1="635.58" x2="648.60" y2="635.58" stroke="#0b5297" stroke-width="1.3" />
<circle cx="641.50" cy="622.53" r="3.2" fill="none" stroke="#0b5297" stroke-width="1.6"/>
<circle cx="645.50" cy="622.53" r="3.2" fill="none" stroke="#0b5297" stroke-width="1.6"/>
<circle cx="649.50" cy="629.19" r="3.2" fill="none" stroke="#0b5297" stroke-width="1.6"/>
<circle cx="645.00" cy="632.92" r="3.2" fill="none" stroke="#0b5297" stroke-width="1.6"/>
<circle cx="645.00" cy="645.31" r="3.2" fill="none" stroke="#0b5297" stroke-width="1.6"/>
<path d="M659.90,715.70 V673.13 H672.10 V715.70" fill="none" stroke="#8f0b0b" stroke-width="2.6" stroke-linejoin="miter"/>
<line x1="666.00" y1="668.63" x2="666.00" y2="675.03" stroke="#8f0b0b" stroke-width="1.3" />
<line x1="662.40" y1="668.63" x2="669.60" y2="668.63" stroke="#8f0b0b" stroke-width="1.3" />
<line x1="662.40" y1="675.03" x2="669.60" y2="675.03" stroke="#8f0b0b" stroke-width="1.3" />
<rect x="662.80" y="655.84" width="6.4" height="6.4" fill="none" stroke="#8f0b0b" stroke-width="1.7"/>
<rect x="666.30" y="662.76" width="6.4" height="6.4" fill="none" stroke="#8f0b0b" stroke-width="1.7"/>
<rect x="658.80" y="671.29" width="6.4" height="6.4" fill="none" stroke="#8f0b0b" stroke-width="1.7"/>
<rect x="666.30" y="672.89" width="6.4" height="6.4" fill="none" stroke="#8f0b0b" stroke-width="1.7"/>
<rect x="659.30" y="674.22" width="6.4" height="6.4" fill="none" stroke="#8f0b0b" stroke-width="1.7"/>
<line x1="642.70" y1="611.30" x2="667.30" y2="611.30" stroke="#000" stroke-width="2.4" stroke-linecap="round"/>
<path d="M643.30,595.80 L643.30,603.80 M639.84,597.80 L646.76,601.80 M646.76,597.80 L639.84,601.80 " stroke="#000" stroke-width="1.9" fill="none"/>
<circle cx="643.30" cy="599.80" r="1.6" fill="#000"/>
<path d="M651.50,595.80 L651.50,603.80 M648.04,597.80 L654.96,601.80 M654.96,597.80 L648.04,601.80 " stroke="#000" stroke-width="1.9" fill="none"/>
<circle cx="651.50" cy="599.80" r="1.6" fill="#000"/>
<path d="M659.70,595.80 L659.70,603.80 M656.24,597.80 L663.16,601.80 M663.16,597.80 L656.24,601.80 " stroke="#000" stroke-width="1.9" fill="none"/>
<circle cx="659.70" cy="599.80" r="1.6" fill="#000"/>
<path d="M667.90,595.80 L667.90,603.80 M664.44,597.80 L671.36,601.80 M671.36,597.80 L664.44,601.80 " stroke="#000" stroke-width="1.9" fill="none"/>
<circle cx="667.90" cy="599.80" r="1.6" fill="#000"/>
<text transform="translate(544.39,662.50) rotate(-90)" x="0" y="0" font-size="14.5" font-weight="bold" text-anchor="middle" textLength="115.0" lengthAdjust="spacingAndGlyphs">PD-1<tspan baseline-shift="3.7" font-size="10.5">+</tspan> Treg cells %</text>
<line x1="71.00" y1="776.80" x2="71.00" y2="886.70" stroke="#000" stroke-width="1.8" />
<line x1="64.50" y1="885.80" x2="178.00" y2="885.80" stroke="#000" stroke-width="1.8" />
<line x1="64.50" y1="885.80" x2="71.00" y2="885.80" stroke="#000" stroke-width="1.8" />
<text x="62.7" y="890.4" font-size="14.1" text-anchor="end" font-weight="bold" fill="#000" >0</text>
<line x1="64.50" y1="858.77" x2="71.00" y2="858.77" stroke="#000" stroke-width="1.8" />
<text x="62.7" y="863.3" font-size="14.1" text-anchor="end" font-weight="bold" fill="#000" >25</text>
<line x1="64.50" y1="831.75" x2="71.00" y2="831.75" stroke="#000" stroke-width="1.8" />
<text x="62.7" y="836.3" font-size="14.1" text-anchor="end" font-weight="bold" fill="#000" >50</text>
<line x1="64.50" y1="804.73" x2="71.00" y2="804.73" stroke="#000" stroke-width="1.8" />
<text x="62.7" y="809.3" font-size="14.1" text-anchor="end" font-weight="bold" fill="#000" >75</text>
<line x1="64.50" y1="777.70" x2="71.00" y2="777.70" stroke="#000" stroke-width="1.8" />
<text x="62.7" y="782.3" font-size="14.1" text-anchor="end" font-weight="bold" fill="#000" >100</text>
<line x1="95.80" y1="885.80" x2="95.80" y2="893.30" stroke="#000" stroke-width="1.8" />
<line x1="152.80" y1="885.80" x2="152.80" y2="893.30" stroke="#000" stroke-width="1.8" />
<text x="96.6" y="907.1" font-size="14.0" text-anchor="middle" font-weight="bold" fill="#000" >CMS5</text>
<text x="150.6" y="907.1" font-size="14.0" text-anchor="middle" font-weight="bold" fill="#000" textLength="59.8" lengthAdjust="spacingAndGlyphs">Re.CMS5</text>
<path d="M79.20,884.90 V818.88 H91.40 V884.90" fill="none" stroke="#0b5297" stroke-width="2.6" stroke-linejoin="miter"/>
<line x1="85.30" y1="814.34" x2="85.30" y2="820.82" stroke="#0b5297" stroke-width="1.3" />
<line x1="81.70" y1="814.34" x2="88.90" y2="814.34" stroke="#0b5297" stroke-width="1.3" />
<line x1="81.70" y1="820.82" x2="88.90" y2="820.82" stroke="#0b5297" stroke-width="1.3" />
<circle cx="81.00" cy="811.43" r="3.2" fill="none" stroke="#0b5297" stroke-width="1.6"/>
<circle cx="85.30" cy="810.67" r="3.2" fill="none" stroke="#0b5297" stroke-width="1.6"/>
<circle cx="89.50" cy="814.02" r="3.2" fill="none" stroke="#0b5297" stroke-width="1.6"/>
<circle cx="85.30" cy="818.34" r="3.2" fill="none" stroke="#0b5297" stroke-width="1.6"/>
<circle cx="85.30" cy="830.33" r="3.2" fill="none" stroke="#0b5297" stroke-width="1.6"/>
<path d="M100.80,884.90 V818.13 H113.00 V884.90" fill="none" stroke="#8f0b0b" stroke-width="2.6" stroke-linejoin="miter"/>
<line x1="106.90" y1="814.67" x2="106.90" y2="818.99" stroke="#8f0b0b" stroke-width="1.3" />
<line x1="103.30" y1="814.67" x2="110.50" y2="814.67" stroke="#8f0b0b" stroke-width="1.3" />
<line x1="103.30" y1="818.99" x2="110.50" y2="818.99" stroke="#8f0b0b" stroke-width="1.3" />
<rect x="103.70" y="803.15" width="6.4" height="6.4" fill="none" stroke="#8f0b0b" stroke-width="1.7"/>
<rect x="103.70" y="810.17" width="6.4" height="6.4" fill="none" stroke="#8f0b0b" stroke-width="1.7"/>
<rect x="99.80" y="814.38" width="6.4" height="6.4" fill="none" stroke="#8f0b0b" stroke-width="1.7"/>
<rect x="107.30" y="812.76" width="6.4" height="6.4" fill="none" stroke="#8f0b0b" stroke-width="1.7"/>
<rect x="103.70" y="815.90" width="6.4" height="6.4" fill="none" stroke="#8f0b0b" stroke-width="1.7"/>
<path d="M136.00,884.90 V808.95 H148.20 V884.90" fill="none" stroke="#0b5297" stroke-width="2.6" stroke-linejoin="miter"/>
<line x1="142.10" y1="804.95" x2="142.10" y2="810.35" stroke="#0b5297" stroke-width="1.3" />
<line x1="138.50" y1="804.95" x2="145.70" y2="804.95" stroke="#0b5297" stroke-width="1.3" />
<line x1="138.50" y1="810.35" x2="145.70" y2="810.35" stroke="#0b5297" stroke-width="1.3" />
<circle cx="138.00" cy="801.49" r="3.2" fill="none" stroke="#0b5297" stroke-width="1.6"/>
<circle cx="146.30" cy="801.49" r="3.2" fill="none" stroke="#0b5297" stroke-width="1.6"/>
<circle cx="142.10" cy="805.81" r="3.2" fill="none" stroke="#0b5297" stroke-width="1.6"/>
<circle cx="142.10" cy="806.78" r="3.2" fill="none" stroke="#0b5297" stroke-width="1.6"/>
<circle cx="142.10" cy="818.56" r="3.2" fill="none" stroke="#0b5297" stroke-width="1.6"/>
<path d="M157.90,884.90 V840.27 H170.10 V884.90" fill="none" stroke="#8f0b0b" stroke-width="2.6" stroke-linejoin="miter"/>
<line x1="164.00" y1="837.02" x2="164.00" y2="840.91" stroke="#8f0b0b" stroke-width="1.3" />
<line x1="160.40" y1="837.02" x2="167.60" y2="837.02" stroke="#8f0b0b" stroke-width="1.3" />
<line x1="160.40" y1="840.91" x2="167.60" y2="840.91" stroke="#8f0b0b" stroke-width="1.3" />
<rect x="156.80" y="828.86" width="6.4" height="6.4" fill="none" stroke="#8f0b0b" stroke-width="1.7"/>
<rect x="160.80" y="828.86" width="6.4" height="6.4" fill="none" stroke="#8f0b0b" stroke-width="1.7"/>
<rect x="164.80" y="828.86" width="6.4" height="6.4" fill="none" stroke="#8f0b0b" stroke-width="1.7"/>
<rect x="157.80" y="838.90" width="6.4" height="6.4" fill="none" stroke="#8f0b0b" stroke-width="1.7"/>
<rect x="164.30" y="837.28" width="6.4" height="6.4" fill="none" stroke="#8f0b0b" stroke-width="1.7"/>
<line x1="140.30" y1="790.30" x2="164.90" y2="790.30" stroke="#000" stroke-width="2.4" stroke-linecap="round"/>
<path d="M140.50,774.50 L140.50,782.50 M137.04,776.50 L143.96,780.50 M143.96,776.50 L137.04,780.50 " stroke="#000" stroke-width="1.9" fill="none"/>
<circle cx="140.50" cy="778.50" r="1.6" fill="#000"/>
<path d="M148.70,774.50 L148.70,782.50 M145.24,776.50 L152.16,780.50 M152.16,776.50 L145.24,780.50 " stroke="#000" stroke-width="1.9" fill="none"/>
<circle cx="148.70" cy="778.50" r="1.6" fill="#000"/>
<path d="M156.90,774.50 L156.90,782.50 M153.44,776.50 L160.36,780.50 M160.36,776.50 L153.44,780.50 " stroke="#000" stroke-width="1.9" fill="none"/>
<circle cx="156.90" cy="778.50" r="1.6" fill="#000"/>
<path d="M165.10,774.50 L165.10,782.50 M161.64,776.50 L168.56,780.50 M168.56,776.50 L161.64,780.50 " stroke="#000" stroke-width="1.9" fill="none"/>
<circle cx="165.10" cy="778.50" r="1.6" fill="#000"/>
<text transform="translate(31.89,830.00) rotate(-90)" x="0" y="0" font-size="14.5" font-weight="bold" text-anchor="middle" textLength="116.0" lengthAdjust="spacingAndGlyphs">Ki67<tspan baseline-shift="3.7" font-size="10.5">+</tspan> Treg cells %</text>
<line x1="239.80" y1="776.70" x2="239.80" y2="886.30" stroke="#000" stroke-width="1.8" />
<line x1="233.30" y1="885.40" x2="345.70" y2="885.40" stroke="#000" stroke-width="1.8" />
<line x1="233.30" y1="885.40" x2="239.80" y2="885.40" stroke="#000" stroke-width="1.8" />
<text x="231.5" y="890.0" font-size="14.1" text-anchor="end" font-weight="bold" fill="#000" >0</text>
<line x1="233.30" y1="849.47" x2="239.80" y2="849.47" stroke="#000" stroke-width="1.8" />
<text x="231.5" y="854.0" font-size="14.1" text-anchor="end" font-weight="bold" fill="#000" >5</text>
<line x1="233.30" y1="813.53" x2="239.80" y2="813.53" stroke="#000" stroke-width="1.8" />
<text x="231.5" y="818.1" font-size="14.1" text-anchor="end" font-weight="bold" fill="#000" >10</text>
<line x1="233.30" y1="777.60" x2="239.80" y2="777.60" stroke="#000" stroke-width="1.8" />
<text x="231.5" y="782.2" font-size="14.1" text-anchor="end" font-weight="bold" fill="#000" >15</text>
<line x1="264.50" y1="885.40" x2="264.50" y2="892.90" stroke="#000" stroke-width="1.8" />
<line x1="320.70" y1="885.40" x2="320.70" y2="892.90" stroke="#000" stroke-width="1.8" />
<text x="265.3" y="906.7" font-size="14.0" text-anchor="middle" font-weight="bold" fill="#000" >CMS5</text>
<text x="318.5" y="906.7" font-size="14.0" text-anchor="middle" font-weight="bold" fill="#000" textLength="59.8" lengthAdjust="spacingAndGlyphs">Re.CMS5</text>
<path d="M247.70,884.50 V850.32 H259.90 V884.50" fill="none" stroke="#0b5297" stroke-width="2.6" stroke-linejoin="miter"/>
<line x1="253.80" y1="844.71" x2="253.80" y2="853.33" stroke="#0b5297" stroke-width="1.3" />
<line x1="250.20" y1="844.71" x2="257.40" y2="844.71" stroke="#0b5297" stroke-width="1.3" />
<line x1="250.20" y1="853.33" x2="257.40" y2="853.33" stroke="#0b5297" stroke-width="1.3" />
<circle cx="250.50" cy="836.37" r="3.2" fill="none" stroke="#0b5297" stroke-width="1.6"/>
<circle cx="258.00" cy="841.26" r="3.2" fill="none" stroke="#0b5297" stroke-width="1.6"/>
<circle cx="250.50" cy="846.65" r="3.2" fill="none" stroke="#0b5297" stroke-width="1.6"/>
<circle cx="258.00" cy="854.27" r="3.2" fill="none" stroke="#0b5297" stroke-width="1.6"/>
<circle cx="250.50" cy="859.66" r="3.2" fill="none" stroke="#0b5297" stroke-width="1.6"/>
<path d="M268.90,884.50 V831.06 H281.10 V884.50" fill="none" stroke="#8f0b0b" stroke-width="2.6" stroke-linejoin="miter"/>
<line x1="275.00" y1="825.67" x2="275.00" y2="833.86" stroke="#8f0b0b" stroke-width="1.3" />
<line x1="271.40" y1="825.67" x2="278.60" y2="825.67" stroke="#8f0b0b" stroke-width="1.3" />
<line x1="271.40" y1="833.86" x2="278.60" y2="833.86" stroke="#8f0b0b" stroke-width="1.3" />
<rect x="271.80" y="812.12" width="6.4" height="6.4" fill="none" stroke="#8f0b0b" stroke-width="1.7"/>
<rect x="271.80" y="819.02" width="6.4" height="6.4" fill="none" stroke="#8f0b0b" stroke-width="1.7"/>
<rect x="267.80" y="833.53" width="6.4" height="6.4" fill="none" stroke="#8f0b0b" stroke-width="1.7"/>
<rect x="275.30" y="830.37" width="6.4" height="6.4" fill="none" stroke="#8f0b0b" stroke-width="1.7"/>
<rect x="271.80" y="828.93" width="6.4" height="6.4" fill="none" stroke="#8f0b0b" stroke-width="1.7"/>
<path d="M304.60,884.50 V847.52 H316.80 V884.50" fill="none" stroke="#0b5297" stroke-width="2.6" stroke-linejoin="miter"/>
<line x1="310.70" y1="842.99" x2="310.70" y2="849.45" stroke="#0b5297" stroke-width="1.3" />
<line x1="307.10" y1="842.99" x2="314.30" y2="842.99" stroke="#0b5297" stroke-width="1.3" />
<line x1="307.10" y1="849.45" x2="314.30" y2="849.45" stroke="#0b5297" stroke-width="1.3" />
<circle cx="310.70" cy="835.22" r="3.2" fill="none" stroke="#0b5297" stroke-width="1.6"/>
<circle cx="307.00" cy="844.14" r="3.2" fill="none" stroke="#0b5297" stroke-width="1.6"/>
<circle cx="314.50" cy="845.93" r="3.2" fill="none" stroke="#0b5297" stroke-width="1.6"/>
<circle cx="310.70" cy="847.08" r="3.2" fill="none" stroke="#0b5297" stroke-width="1.6"/>
<circle cx="310.70" cy="855.42" r="3.2" fill="none" stroke="#0b5297" stroke-width="1.6"/>
<path d="M325.70,884.50 V867.07 H337.90 V884.50" fill="none" stroke="#8f0b0b" stroke-width="2.6" stroke-linejoin="miter"/>
<line x1="331.80" y1="863.97" x2="331.80" y2="867.56" stroke="#8f0b0b" stroke-width="1.3" />
<line x1="328.20" y1="863.97" x2="335.40" y2="863.97" stroke="#8f0b0b" stroke-width="1.3" />
<line x1="328.20" y1="867.56" x2="335.40" y2="867.56" stroke="#8f0b0b" stroke-width="1.3" />
<rect x="325.30" y="860.34" width="6.4" height="6.4" fill="none" stroke="#8f0b0b" stroke-width="1.7"/>
<rect x="331.80" y="864.22" width="6.4" height="6.4" fill="none" stroke="#8f0b0b" stroke-width="1.7"/>
<rect x="328.60" y="861.92" width="6.4" height="6.4" fill="none" stroke="#8f0b0b" stroke-width="1.7"/>
<rect x="325.30" y="868.82" width="6.4" height="6.4" fill="none" stroke="#8f0b0b" stroke-width="1.7"/>
<rect x="331.80" y="867.24" width="6.4" height="6.4" fill="none" stroke="#8f0b0b" stroke-width="1.7"/>
<line x1="249.00" y1="802.80" x2="274.20" y2="802.80" stroke="#000" stroke-width="2.4" stroke-linecap="round"/>
<path d="M257.40,787.30 L257.40,795.30 M253.94,789.30 L260.86,793.30 M260.86,789.30 L253.94,793.30 " stroke="#000" stroke-width="1.9" fill="none"/>
<circle cx="257.40" cy="791.30" r="1.6" fill="#000"/>
<path d="M265.60,787.30 L265.60,795.30 M262.14,789.30 L269.06,793.30 M269.06,789.30 L262.14,793.30 " stroke="#000" stroke-width="1.9" fill="none"/>
<circle cx="265.60" cy="791.30" r="1.6" fill="#000"/>
<line x1="312.90" y1="802.80" x2="337.00" y2="802.80" stroke="#000" stroke-width="2.4" stroke-linecap="round"/>
<path d="M317.10,787.30 L317.10,795.30 M313.64,789.30 L320.56,793.30 M320.56,789.30 L313.64,793.30 " stroke="#000" stroke-width="1.9" fill="none"/>
<circle cx="317.10" cy="791.30" r="1.6" fill="#000"/>
<path d="M325.30,787.30 L325.30,795.30 M321.84,789.30 L328.76,793.30 M328.76,789.30 L321.84,793.30 " stroke="#000" stroke-width="1.9" fill="none"/>
<circle cx="325.30" cy="791.30" r="1.6" fill="#000"/>
<path d="M333.50,787.30 L333.50,795.30 M330.04,789.30 L336.96,793.30 M336.96,789.30 L330.04,793.30 " stroke="#000" stroke-width="1.9" fill="none"/>
<circle cx="333.50" cy="791.30" r="1.6" fill="#000"/>
<text transform="translate(208.79,830.25) rotate(-90)" x="0" y="0" font-size="14.5" font-weight="bold" text-anchor="middle" textLength="113.7" lengthAdjust="spacingAndGlyphs">LAP<tspan baseline-shift="3.7" font-size="10.5">+</tspan> Treg cells %</text>
<line x1="406.40" y1="777.70" x2="406.40" y2="887.30" stroke="#000" stroke-width="1.8" />
<line x1="399.90" y1="886.40" x2="512.70" y2="886.40" stroke="#000" stroke-width="1.8" />
<line x1="399.90" y1="886.40" x2="406.40" y2="886.40" stroke="#000" stroke-width="1.8" />
<text x="398.1" y="891.0" font-size="14.1" text-anchor="end" font-weight="bold" fill="#000" >0</text>
<line x1="399.90" y1="850.47" x2="406.40" y2="850.47" stroke="#000" stroke-width="1.8" />
<text x="398.1" y="855.0" font-size="14.1" text-anchor="end" font-weight="bold" fill="#000" >5</text>
<line x1="399.90" y1="814.53" x2="406.40" y2="814.53" stroke="#000" stroke-width="1.8" />
<text x="398.1" y="819.1" font-size="14.1" text-anchor="end" font-weight="bold" fill="#000" >10</text>
<line x1="399.90" y1="778.60" x2="406.40" y2="778.60" stroke="#000" stroke-width="1.8" />
<text x="398.1" y="783.2" font-size="14.1" text-anchor="end" font-weight="bold" fill="#000" >15</text>
<line x1="430.70" y1="886.40" x2="430.70" y2="893.90" stroke="#000" stroke-width="1.8" />
<line x1="487.70" y1="886.40" x2="487.70" y2="893.90" stroke="#000" stroke-width="1.8" />
<text x="431.5" y="907.7" font-size="14.0" text-anchor="middle" font-weight="bold" fill="#000" >CMS5</text>
<text x="485.5" y="907.7" font-size="14.0" text-anchor="middle" font-weight="bold" fill="#000" textLength="59.8" lengthAdjust="spacingAndGlyphs">Re.CMS5</text>
<path d="M414.70,885.50 V848.31 H426.90 V885.50" fill="none" stroke="#0b5297" stroke-width="2.6" stroke-linejoin="miter"/>
<line x1="420.80" y1="843.04" x2="420.80" y2="850.99" stroke="#0b5297" stroke-width="1.3" />
<line x1="417.20" y1="843.04" x2="424.40" y2="843.04" stroke="#0b5297" stroke-width="1.3" />
<line x1="417.20" y1="850.99" x2="424.40" y2="850.99" stroke="#0b5297" stroke-width="1.3" />
<circle cx="417.00" cy="834.01" r="3.2" fill="none" stroke="#0b5297" stroke-width="1.6"/>
<circle cx="421.00" cy="838.99" r="3.2" fill="none" stroke="#0b5297" stroke-width="1.6"/>
<circle cx="420.80" cy="849.69" r="3.2" fill="none" stroke="#0b5297" stroke-width="1.6"/>
<circle cx="416.50" cy="853.59" r="3.2" fill="none" stroke="#0b5297" stroke-width="1.6"/>
<circle cx="425.00" cy="853.59" r="3.2" fill="none" stroke="#0b5297" stroke-width="1.6"/>
<path d="M435.80,885.50 V857.35 H448.00 V885.50" fill="none" stroke="#8f0b0b" stroke-width="2.6" stroke-linejoin="miter"/>
<line x1="441.90" y1="852.80" x2="441.90" y2="859.30" stroke="#8f0b0b" stroke-width="1.3" />
<line x1="438.30" y1="852.80" x2="445.50" y2="852.80" stroke="#8f0b0b" stroke-width="1.3" />
<line x1="438.30" y1="859.30" x2="445.50" y2="859.30" stroke="#8f0b0b" stroke-width="1.3" />
<rect x="439.30" y="840.42" width="6.4" height="6.4" fill="none" stroke="#8f0b0b" stroke-width="1.7"/>
<rect x="434.80" y="848.08" width="6.4" height="6.4" fill="none" stroke="#8f0b0b" stroke-width="1.7"/>
<rect x="440.30" y="851.91" width="6.4" height="6.4" fill="none" stroke="#8f0b0b" stroke-width="1.7"/>
<rect x="444.80" y="854.22" width="6.4" height="6.4" fill="none" stroke="#8f0b0b" stroke-width="1.7"/>
<rect x="435.30" y="858.77" width="6.4" height="6.4" fill="none" stroke="#8f0b0b" stroke-width="1.7"/>
<path d="M471.20,885.50 V836.17 H483.40 V885.50" fill="none" stroke="#0b5297" stroke-width="2.6" stroke-linejoin="miter"/>
<line x1="477.30" y1="824.90" x2="477.30" y2="844.85" stroke="#0b5297" stroke-width="1.3" />
<line x1="473.70" y1="824.90" x2="480.90" y2="824.90" stroke="#0b5297" stroke-width="1.3" />
<line x1="473.70" y1="844.85" x2="480.90" y2="844.85" stroke="#0b5297" stroke-width="1.3" />
<circle cx="477.30" cy="809.87" r="3.2" fill="none" stroke="#0b5297" stroke-width="1.6"/>
<circle cx="477.30" cy="818.61" r="3.2" fill="none" stroke="#0b5297" stroke-width="1.6"/>
<circle cx="477.30" cy="832.92" r="3.2" fill="none" stroke="#0b5297" stroke-width="1.6"/>
<circle cx="477.30" cy="846.22" r="3.2" fill="none" stroke="#0b5297" stroke-width="1.6"/>
<circle cx="477.30" cy="861.97" r="3.2" fill="none" stroke="#0b5297" stroke-width="1.6"/>
<path d="M492.80,885.50 V864.79 H505.00 V885.50" fill="none" stroke="#8f0b0b" stroke-width="2.6" stroke-linejoin="miter"/>
<line x1="498.90" y1="861.32" x2="498.90" y2="865.66" stroke="#8f0b0b" stroke-width="1.3" />
<line x1="495.30" y1="861.32" x2="502.50" y2="861.32" stroke="#8f0b0b" stroke-width="1.3" />
<line x1="495.30" y1="865.66" x2="502.50" y2="865.66" stroke="#8f0b0b" stroke-width="1.3" />
<rect x="491.80" y="851.91" width="6.4" height="6.4" fill="none" stroke="#8f0b0b" stroke-width="1.7"/>
<rect x="499.80" y="851.91" width="6.4" height="6.4" fill="none" stroke="#8f0b0b" stroke-width="1.7"/>
<rect x="495.80" y="851.91" width="6.4" height="6.4" fill="none" stroke="#8f0b0b" stroke-width="1.7"/>
<rect x="491.80" y="863.40" width="6.4" height="6.4" fill="none" stroke="#8f0b0b" stroke-width="1.7"/>
<rect x="499.30" y="862.60" width="6.4" height="6.4" fill="none" stroke="#8f0b0b" stroke-width="1.7"/>
<line x1="479.10" y1="799.00" x2="499.90" y2="799.00" stroke="#000" stroke-width="2.4" stroke-linecap="round"/>
<path d="M489.50,783.50 L489.50,791.50 M486.04,785.50 L492.96,789.50 M492.96,785.50 L486.04,789.50 " stroke="#000" stroke-width="1.9" fill="none"/>
<circle cx="489.50" cy="787.50" r="1.6" fill="#000"/>
<text transform="translate(376.29,832.00) rotate(-90)" x="0" y="0" font-size="14.5" font-weight="bold" text-anchor="middle" textLength="112.0" lengthAdjust="spacingAndGlyphs">IL10<tspan baseline-shift="3.7" font-size="10.5">+</tspan> Treg cells %</text>
<line x1="573.95" y1="778.50" x2="573.95" y2="888.60" stroke="#000" stroke-width="1.8" />
<line x1="567.45" y1="887.70" x2="680.60" y2="887.70" stroke="#000" stroke-width="1.8" />
<line x1="567.45" y1="887.70" x2="573.95" y2="887.70" stroke="#000" stroke-width="1.8" />
<text x="565.7" y="892.3" font-size="14.1" text-anchor="end" font-weight="bold" fill="#000" >0</text>
<line x1="567.45" y1="851.60" x2="573.95" y2="851.60" stroke="#000" stroke-width="1.8" />
<text x="565.7" y="856.2" font-size="14.1" text-anchor="end" font-weight="bold" fill="#000" >5</text>
<line x1="567.45" y1="815.50" x2="573.95" y2="815.50" stroke="#000" stroke-width="1.8" />
<text x="565.7" y="820.1" font-size="14.1" text-anchor="end" font-weight="bold" fill="#000" >10</text>
<line x1="567.45" y1="779.40" x2="573.95" y2="779.40" stroke="#000" stroke-width="1.8" />
<text x="565.7" y="784.0" font-size="14.1" text-anchor="end" font-weight="bold" fill="#000" >15</text>
<line x1="598.90" y1="887.70" x2="598.90" y2="895.20" stroke="#000" stroke-width="1.8" />
<line x1="655.60" y1="887.70" x2="655.60" y2="895.20" stroke="#000" stroke-width="1.8" />
<text x="599.7" y="909.0" font-size="14.0" text-anchor="middle" font-weight="bold" fill="#000" >CMS5</text>
<text x="653.4" y="909.0" font-size="14.0" text-anchor="middle" font-weight="bold" fill="#000" textLength="59.8" lengthAdjust="spacingAndGlyphs">Re.CMS5</text>
<path d="M582.00,886.80 V856.11 H594.20 V886.80" fill="none" stroke="#0b5297" stroke-width="2.6" stroke-linejoin="miter"/>
<line x1="588.10" y1="850.83" x2="588.10" y2="858.79" stroke="#0b5297" stroke-width="1.3" />
<line x1="584.50" y1="850.83" x2="591.70" y2="850.83" stroke="#0b5297" stroke-width="1.3" />
<line x1="584.50" y1="858.79" x2="591.70" y2="858.79" stroke="#0b5297" stroke-width="1.3" />
<circle cx="584.00" cy="843.23" r="3.2" fill="none" stroke="#0b5297" stroke-width="1.6"/>
<circle cx="592.00" cy="843.23" r="3.2" fill="none" stroke="#0b5297" stroke-width="1.6"/>
<circle cx="584.00" cy="853.29" r="3.2" fill="none" stroke="#0b5297" stroke-width="1.6"/>
<circle cx="584.00" cy="864.29" r="3.2" fill="none" stroke="#0b5297" stroke-width="1.6"/>
<circle cx="592.00" cy="860.53" r="3.2" fill="none" stroke="#0b5297" stroke-width="1.6"/>
<path d="M603.40,886.80 V848.72 H615.60 V886.80" fill="none" stroke="#8f0b0b" stroke-width="2.6" stroke-linejoin="miter"/>
<line x1="609.50" y1="843.08" x2="609.50" y2="851.77" stroke="#8f0b0b" stroke-width="1.3" />
<line x1="605.90" y1="843.08" x2="613.10" y2="843.08" stroke="#8f0b0b" stroke-width="1.3" />
<line x1="605.90" y1="851.77" x2="613.10" y2="851.77" stroke="#8f0b0b" stroke-width="1.3" />
<rect x="606.30" y="834.31" width="6.4" height="6.4" fill="none" stroke="#8f0b0b" stroke-width="1.7"/>
<rect x="602.30" y="838.07" width="6.4" height="6.4" fill="none" stroke="#8f0b0b" stroke-width="1.7"/>
<rect x="610.30" y="838.07" width="6.4" height="6.4" fill="none" stroke="#8f0b0b" stroke-width="1.7"/>
<rect x="606.30" y="841.18" width="6.4" height="6.4" fill="none" stroke="#8f0b0b" stroke-width="1.7"/>
<rect x="606.30" y="863.92" width="6.4" height="6.4" fill="none" stroke="#8f0b0b" stroke-width="1.7"/>
<path d="M638.90,886.80 V821.07 H651.10 V886.80" fill="none" stroke="#0b5297" stroke-width="2.6" stroke-linejoin="miter"/>
<line x1="645.00" y1="805.65" x2="645.00" y2="833.89" stroke="#0b5297" stroke-width="1.3" />
<line x1="641.40" y1="805.65" x2="648.60" y2="805.65" stroke="#0b5297" stroke-width="1.3" />
<line x1="641.40" y1="833.89" x2="648.60" y2="833.89" stroke="#0b5297" stroke-width="1.3" />
<circle cx="645.00" cy="789.22" r="3.2" fill="none" stroke="#0b5297" stroke-width="1.6"/>
<circle cx="645.00" cy="799.93" r="3.2" fill="none" stroke="#0b5297" stroke-width="1.6"/>
<circle cx="645.00" cy="808.84" r="3.2" fill="none" stroke="#0b5297" stroke-width="1.6"/>
<circle cx="645.00" cy="845.11" r="3.2" fill="none" stroke="#0b5297" stroke-width="1.6"/>
<circle cx="645.00" cy="852.35" r="3.2" fill="none" stroke="#0b5297" stroke-width="1.6"/>
<path d="M660.80,886.80 V859.44 H673.00 V886.80" fill="none" stroke="#8f0b0b" stroke-width="2.6" stroke-linejoin="miter"/>
<line x1="666.90" y1="853.80" x2="666.90" y2="862.48" stroke="#8f0b0b" stroke-width="1.3" />
<line x1="663.30" y1="853.80" x2="670.50" y2="853.80" stroke="#8f0b0b" stroke-width="1.3" />
<line x1="663.30" y1="862.48" x2="670.50" y2="862.48" stroke="#8f0b0b" stroke-width="1.3" />
<rect x="662.80" y="832.79" width="6.4" height="6.4" fill="none" stroke="#8f0b0b" stroke-width="1.7"/>
<rect x="667.30" y="851.10" width="6.4" height="6.4" fill="none" stroke="#8f0b0b" stroke-width="1.7"/>
<rect x="659.80" y="854.94" width="6.4" height="6.4" fill="none" stroke="#8f0b0b" stroke-width="1.7"/>
<rect x="667.30" y="864.93" width="6.4" height="6.4" fill="none" stroke="#8f0b0b" stroke-width="1.7"/>
<rect x="659.80" y="868.77" width="6.4" height="6.4" fill="none" stroke="#8f0b0b" stroke-width="1.7"/>
<line x1="645.20" y1="778.00" x2="669.90" y2="778.00" stroke="#000" stroke-width="2.4" stroke-linecap="round"/>
<path d="M657.70,764.30 L657.70,772.30 M654.24,766.30 L661.16,770.30 M661.16,766.30 L654.24,770.30 " stroke="#000" stroke-width="1.9" fill="none"/>
<circle cx="657.70" cy="768.30" r="1.6" fill="#000"/>
<text transform="translate(542.29,831.90) rotate(-90)" x="0" y="0" font-size="14.5" font-weight="bold" text-anchor="middle" textLength="117.0" lengthAdjust="spacingAndGlyphs">IFN<tspan font-weight="normal" font-size="11.5" baseline-shift="-1">γ</tspan>+ Treg cells %</text>
<text x="7.0" y="11.4" font-size="13.5" text-anchor="start" font-weight="bold" fill="#000" >A</text>
<text x="7.0" y="141.8" font-size="13.5" text-anchor="start" font-weight="bold" fill="#000" >B</text>
<text x="1.3" y="370.0" font-size="13.5" text-anchor="start" font-weight="bold" fill="#000" >C</text>
<text x="1.3" y="572.0" font-size="13.5" text-anchor="start" font-weight="bold" fill="#000" >D</text>
<circle cx="46" cy="154.9" r="3.6" fill="none" stroke="#0b5297" stroke-width="1.7"/>
<rect x="42.4" y="171.3" width="7.2" height="7.2" fill="none" stroke="#8f0b0b" stroke-width="1.7"/>
<text x="65.4" y="159.9" font-size="14.0" text-anchor="start" font-weight="bold" fill="#0b5297" >0d</text>
<text x="65.4" y="179.9" font-size="14.0" text-anchor="start" font-weight="bold" fill="#8f0b0b" >7d</text>
<circle cx="76.2" cy="382.6" r="3.4" fill="none" stroke="#0b5297" stroke-width="1.7"/>
<rect x="72.8" y="397.6" width="6.8" height="6.8" fill="none" stroke="#8f0b0b" stroke-width="1.7"/>
<text x="95.0" y="387.5" font-size="13.5" text-anchor="start" font-weight="bold" fill="#0b5297" >0d</text>
<text x="95.0" y="405.9" font-size="13.5" text-anchor="start" font-weight="bold" fill="#8f0b0b" >7d</text>
<circle cx="65.9" cy="577.2" r="3.4" fill="none" stroke="#0b5297" stroke-width="1.7"/>
<rect x="62.50000000000001" y="593.2" width="6.8" height="6.8" fill="none" stroke="#8f0b0b" stroke-width="1.7"/>
<text x="84.3" y="582.1" font-size="13.5" text-anchor="start" font-weight="bold" fill="#0b5297" >0d</text>
<text x="84.3" y="601.5" font-size="13.5" text-anchor="start" font-weight="bold" fill="#8f0b0b" >7d</text>
</svg></body></html>
